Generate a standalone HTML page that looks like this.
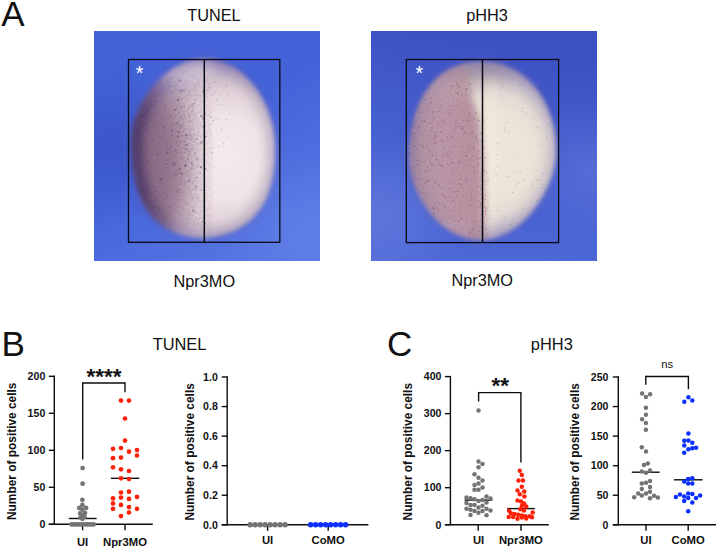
<!DOCTYPE html>
<html><head><meta charset="utf-8"><title>Figure</title>
<style>html,body{margin:0;padding:0;background:#fff;width:717px;height:550px;overflow:hidden}svg{display:block}</style>
</head><body>
<svg width="717" height="550" viewBox="0 0 717 550" font-family="'Liberation Sans', Arial, sans-serif">
<defs>
<filter id="bl3" x="-30%" y="-30%" width="160%" height="160%"><feGaussianBlur stdDeviation="3"/></filter>
<filter id="bl4" x="-30%" y="-30%" width="160%" height="160%"><feGaussianBlur stdDeviation="4"/></filter>
<filter id="bl6" x="-30%" y="-30%" width="160%" height="160%"><feGaussianBlur stdDeviation="6"/></filter>
<filter id="bl12" x="-30%" y="-30%" width="160%" height="160%"><feGaussianBlur stdDeviation="12"/></filter>
<filter id="bl2" x="-30%" y="-30%" width="160%" height="160%"><feGaussianBlur stdDeviation="2"/></filter>
<linearGradient id="bg1" x1="0" y1="0" x2="0.6" y2="1"><stop offset="0" stop-color="#4462d6"/><stop offset="0.5" stop-color="#4362d8"/><stop offset="1" stop-color="#5574e2"/></linearGradient>
<radialGradient id="bgr1" cx="0.08" cy="0.5" r="0.35"><stop offset="0" stop-color="#3048b8" stop-opacity="0.45"/><stop offset="1" stop-color="#3048b8" stop-opacity="0"/></radialGradient>
<radialGradient id="bgs1" cx="0.95" cy="0.9" r="0.4"><stop offset="0" stop-color="#6a88ea" stop-opacity="0.5"/><stop offset="1" stop-color="#6a88ea" stop-opacity="0"/></radialGradient>
<linearGradient id="bg2" x1="0.5" y1="0" x2="0.3" y2="1"><stop offset="0" stop-color="#3b50c2"/><stop offset="0.5" stop-color="#4660d0"/><stop offset="1" stop-color="#4e68d6"/></linearGradient>
<radialGradient id="bgr2" cx="0.04" cy="0.8" r="0.35"><stop offset="0" stop-color="#6c84e2" stop-opacity="0.55"/><stop offset="1" stop-color="#6c84e2" stop-opacity="0"/></radialGradient>
<radialGradient id="bgs2" cx="0.98" cy="0.6" r="0.3"><stop offset="0" stop-color="#6a80e0" stop-opacity="0.4"/><stop offset="1" stop-color="#6a80e0" stop-opacity="0"/></radialGradient>
<radialGradient id="eb1" cx="0.64" cy="0.55" r="0.62" fx="0.64" fy="0.55" gradientTransform="translate(0.64 0.55) scale(1 0.85) translate(-0.64 -0.55)"><stop offset="0" stop-color="#f5ebec"/><stop offset="0.45" stop-color="#efe4e6"/><stop offset="0.7" stop-color="#e0d2d8"/><stop offset="0.86" stop-color="#c6b6c8"/><stop offset="1" stop-color="#9a8cc0"/></radialGradient>
<linearGradient id="ev1" x1="0" y1="0" x2="0" y2="1"><stop offset="0" stop-color="#fff" stop-opacity="0.0"/><stop offset="1" stop-color="#fff" stop-opacity="0"/></linearGradient>
<radialGradient id="eb2" cx="0.55" cy="0.52" r="0.6" gradientTransform="translate(0.55 0.52) scale(1 0.85) translate(-0.55 -0.52)"><stop offset="0" stop-color="#eee6da"/><stop offset="0.5" stop-color="#ebe3d7"/><stop offset="0.68" stop-color="#e2dad4"/><stop offset="0.82" stop-color="#cac2cc"/><stop offset="0.93" stop-color="#aaa2c6"/><stop offset="1" stop-color="#8a86c4"/></radialGradient>
<linearGradient id="pk2" x1="405" y1="0" x2="490" y2="0" gradientUnits="userSpaceOnUse"><stop offset="0" stop-color="#7a6aa2"/><stop offset="0.07" stop-color="#9a82a0"/><stop offset="0.2" stop-color="#b496a6"/><stop offset="0.5" stop-color="#ba98a7"/><stop offset="0.85" stop-color="#b6929f"/><stop offset="0.94" stop-color="#c6aab0"/><stop offset="1" stop-color="#dccac4"/></linearGradient>
<linearGradient id="ev2" x1="0" y1="0" x2="0" y2="1"><stop offset="0" stop-color="#fff" stop-opacity="0.0"/><stop offset="1" stop-color="#fff" stop-opacity="0"/></linearGradient>
<filter id="bl10" x="-50%" y="-50%" width="200%" height="200%"><feGaussianBlur stdDeviation="10"/></filter>
<mask id="gm2" maskUnits="userSpaceOnUse" x="380" y="30" width="240" height="240"><path d="M395,50 L466,50 L468,80 L471,100 L478,118 L484,160 L487,205 L490,250 L395,250 Z" fill="#fff" filter="url(#bl2)"/></mask>
<mask id="gm1" maskUnits="userSpaceOnUse" x="100" y="30" width="220" height="240"><rect x="140" y="75" width="65" height="165" fill="#fff" filter="url(#bl12)"/></mask>
<filter id="grain1" x="0" y="0" width="100%" height="100%"><feTurbulence type="fractalNoise" baseFrequency="0.35" numOctaves="2" seed="7"/><feColorMatrix type="matrix" values="0 0 0 0 0.28  0 0 0 0 0.18  0 0 0 0 0.32  1.8 0 0 0 -0.6"/><feGaussianBlur stdDeviation="0.5"/></filter>
<linearGradient id="rmg1" x1="125" y1="0" x2="175" y2="0" gradientUnits="userSpaceOnUse"><stop offset="0" stop-color="#fff"/><stop offset="0.35" stop-color="#fff" stop-opacity="0.9"/><stop offset="1" stop-color="#fff" stop-opacity="0"/></linearGradient>
<mask id="rm1" maskUnits="userSpaceOnUse" x="100" y="30" width="220" height="240"><rect x="100" y="30" width="220" height="240" fill="url(#rmg1)"/><rect x="100" y="30" width="120" height="70" fill="#000" opacity="0.6" filter="url(#bl12)"/></mask>
<filter id="bl04"><feGaussianBlur stdDeviation="0.5"/></filter>
<filter id="bl8" x="-50%" y="-50%" width="200%" height="200%"><feGaussianBlur stdDeviation="8"/></filter>
<filter id="grain" x="0" y="0" width="100%" height="100%"><feTurbulence type="fractalNoise" baseFrequency="0.4" numOctaves="2" seed="3"/><feColorMatrix type="matrix" values="0 0 0 0 0.45  0 0 0 0 0.24  0 0 0 0 0.32  3.2 0 0 0 -1.45"/><feGaussianBlur stdDeviation="0.5"/></filter>
</defs>
<rect width="717" height="550" fill="#fff"/>
<clipPath id="pc1"><rect x="94" y="31" width="226" height="230"/></clipPath>
<clipPath id="ec1"><path d="M131.3,148.1 C131.3,146.3 131.3,144.5 131.3,142.6 C131.4,140.8 131.5,138.9 131.6,137.1 C131.8,135.2 132.0,133.4 132.2,131.5 C132.5,129.6 132.8,127.8 133.2,125.9 C133.6,124.1 134.1,122.3 134.6,120.4 C135.2,118.6 135.8,116.8 136.5,115.0 C137.1,113.2 137.9,111.4 138.7,109.6 C139.5,107.8 140.3,106.1 141.3,104.3 C142.2,102.6 143.2,100.9 144.2,99.2 C145.3,97.5 146.4,95.8 147.5,94.1 C148.7,92.4 149.9,90.8 151.2,89.2 C152.5,87.5 153.8,85.9 155.2,84.3 C156.6,82.7 158.0,81.2 159.6,79.6 C161.1,78.1 162.7,76.6 164.4,75.2 C166.1,73.7 167.8,72.3 169.6,71.0 C171.4,69.7 173.3,68.5 175.3,67.3 C177.3,66.2 179.3,65.1 181.4,64.1 C183.5,63.2 185.7,62.3 187.9,61.6 C190.1,60.9 192.3,60.3 194.6,59.9 C196.9,59.5 199.2,59.2 201.6,59.1 C203.9,58.9 206.2,59.0 208.6,59.1 C210.9,59.3 213.2,59.7 215.5,60.1 C217.8,60.6 220.0,61.3 222.2,62.0 C224.4,62.8 226.6,63.7 228.7,64.7 C230.7,65.7 232.8,66.9 234.7,68.1 C236.7,69.3 238.5,70.7 240.3,72.1 C242.1,73.5 243.8,75.0 245.4,76.5 C247.1,78.1 248.6,79.7 250.1,81.3 C251.6,83.0 253.0,84.7 254.3,86.4 C255.6,88.1 256.9,89.9 258.1,91.6 C259.3,93.4 260.4,95.2 261.4,97.0 C262.5,98.8 263.5,100.7 264.4,102.5 C265.3,104.3 266.2,106.2 266.9,108.1 C267.7,109.9 268.5,111.8 269.1,113.7 C269.8,115.6 270.4,117.5 271.0,119.4 C271.5,121.3 272.0,123.2 272.5,125.1 C272.9,127.0 273.3,128.9 273.6,130.9 C273.9,132.8 274.2,134.7 274.4,136.6 C274.6,138.5 274.8,140.5 274.9,142.4 C275.0,144.3 275.1,146.2 275.1,148.1 C275.2,150.1 275.2,152.0 275.1,153.9 C275.1,155.9 275.0,157.8 274.9,159.8 C274.8,161.7 274.6,163.7 274.4,165.6 C274.2,167.6 274.0,169.6 273.7,171.6 C273.4,173.6 273.1,175.6 272.7,177.6 C272.3,179.6 271.8,181.7 271.3,183.7 C270.8,185.7 270.2,187.8 269.6,189.8 C268.9,191.8 268.1,193.9 267.3,195.9 C266.4,197.9 265.5,199.9 264.5,201.9 C263.4,203.8 262.3,205.8 261.1,207.7 C259.9,209.5 258.5,211.4 257.1,213.1 C255.6,214.9 254.1,216.6 252.5,218.2 C250.8,219.8 249.1,221.4 247.3,222.8 C245.5,224.2 243.6,225.6 241.6,226.8 C239.7,228.1 237.6,229.2 235.6,230.2 C233.5,231.3 231.3,232.2 229.1,233.0 C226.9,233.8 224.7,234.5 222.4,235.1 C220.2,235.7 217.9,236.2 215.6,236.6 C213.3,237.0 210.9,237.3 208.6,237.5 C206.3,237.7 203.9,237.7 201.6,237.7 C199.2,237.7 196.9,237.5 194.5,237.3 C192.2,237.1 189.9,236.7 187.6,236.3 C185.3,235.8 183.0,235.2 180.8,234.6 C178.6,233.9 176.4,233.1 174.3,232.2 C172.1,231.3 170.0,230.3 168.0,229.2 C166.0,228.0 164.0,226.8 162.2,225.5 C160.3,224.1 158.5,222.7 156.8,221.2 C155.1,219.7 153.5,218.0 152.0,216.4 C150.5,214.7 149.1,212.9 147.8,211.1 C146.5,209.3 145.3,207.4 144.2,205.5 C143.1,203.6 142.2,201.6 141.3,199.6 C140.4,197.7 139.6,195.7 138.9,193.7 C138.1,191.7 137.5,189.7 136.9,187.7 C136.4,185.8 135.9,183.8 135.4,181.8 C135.0,179.9 134.6,177.9 134.3,176.0 C133.9,174.1 133.6,172.2 133.3,170.3 C133.0,168.4 132.8,166.6 132.6,164.7 C132.4,162.8 132.2,161.0 132.0,159.2 C131.8,157.3 131.7,155.5 131.6,153.7 C131.4,151.8 131.4,150.0 131.3,148.1 Z"/></clipPath>
<g clip-path="url(#pc1)">
<rect x="94" y="31" width="226" height="230" fill="url(#bg1)"/>
<rect x="94" y="31" width="226" height="230" fill="url(#bgr1)"/>
<rect x="94" y="31" width="226" height="230" fill="url(#bgs1)"/>
<path d="M131.3,148.1 C131.3,146.3 131.3,144.5 131.3,142.6 C131.4,140.8 131.5,138.9 131.6,137.1 C131.8,135.2 132.0,133.4 132.2,131.5 C132.5,129.6 132.8,127.8 133.2,125.9 C133.6,124.1 134.1,122.3 134.6,120.4 C135.2,118.6 135.8,116.8 136.5,115.0 C137.1,113.2 137.9,111.4 138.7,109.6 C139.5,107.8 140.3,106.1 141.3,104.3 C142.2,102.6 143.2,100.9 144.2,99.2 C145.3,97.5 146.4,95.8 147.5,94.1 C148.7,92.4 149.9,90.8 151.2,89.2 C152.5,87.5 153.8,85.9 155.2,84.3 C156.6,82.7 158.0,81.2 159.6,79.6 C161.1,78.1 162.7,76.6 164.4,75.2 C166.1,73.7 167.8,72.3 169.6,71.0 C171.4,69.7 173.3,68.5 175.3,67.3 C177.3,66.2 179.3,65.1 181.4,64.1 C183.5,63.2 185.7,62.3 187.9,61.6 C190.1,60.9 192.3,60.3 194.6,59.9 C196.9,59.5 199.2,59.2 201.6,59.1 C203.9,58.9 206.2,59.0 208.6,59.1 C210.9,59.3 213.2,59.7 215.5,60.1 C217.8,60.6 220.0,61.3 222.2,62.0 C224.4,62.8 226.6,63.7 228.7,64.7 C230.7,65.7 232.8,66.9 234.7,68.1 C236.7,69.3 238.5,70.7 240.3,72.1 C242.1,73.5 243.8,75.0 245.4,76.5 C247.1,78.1 248.6,79.7 250.1,81.3 C251.6,83.0 253.0,84.7 254.3,86.4 C255.6,88.1 256.9,89.9 258.1,91.6 C259.3,93.4 260.4,95.2 261.4,97.0 C262.5,98.8 263.5,100.7 264.4,102.5 C265.3,104.3 266.2,106.2 266.9,108.1 C267.7,109.9 268.5,111.8 269.1,113.7 C269.8,115.6 270.4,117.5 271.0,119.4 C271.5,121.3 272.0,123.2 272.5,125.1 C272.9,127.0 273.3,128.9 273.6,130.9 C273.9,132.8 274.2,134.7 274.4,136.6 C274.6,138.5 274.8,140.5 274.9,142.4 C275.0,144.3 275.1,146.2 275.1,148.1 C275.2,150.1 275.2,152.0 275.1,153.9 C275.1,155.9 275.0,157.8 274.9,159.8 C274.8,161.7 274.6,163.7 274.4,165.6 C274.2,167.6 274.0,169.6 273.7,171.6 C273.4,173.6 273.1,175.6 272.7,177.6 C272.3,179.6 271.8,181.7 271.3,183.7 C270.8,185.7 270.2,187.8 269.6,189.8 C268.9,191.8 268.1,193.9 267.3,195.9 C266.4,197.9 265.5,199.9 264.5,201.9 C263.4,203.8 262.3,205.8 261.1,207.7 C259.9,209.5 258.5,211.4 257.1,213.1 C255.6,214.9 254.1,216.6 252.5,218.2 C250.8,219.8 249.1,221.4 247.3,222.8 C245.5,224.2 243.6,225.6 241.6,226.8 C239.7,228.1 237.6,229.2 235.6,230.2 C233.5,231.3 231.3,232.2 229.1,233.0 C226.9,233.8 224.7,234.5 222.4,235.1 C220.2,235.7 217.9,236.2 215.6,236.6 C213.3,237.0 210.9,237.3 208.6,237.5 C206.3,237.7 203.9,237.7 201.6,237.7 C199.2,237.7 196.9,237.5 194.5,237.3 C192.2,237.1 189.9,236.7 187.6,236.3 C185.3,235.8 183.0,235.2 180.8,234.6 C178.6,233.9 176.4,233.1 174.3,232.2 C172.1,231.3 170.0,230.3 168.0,229.2 C166.0,228.0 164.0,226.8 162.2,225.5 C160.3,224.1 158.5,222.7 156.8,221.2 C155.1,219.7 153.5,218.0 152.0,216.4 C150.5,214.7 149.1,212.9 147.8,211.1 C146.5,209.3 145.3,207.4 144.2,205.5 C143.1,203.6 142.2,201.6 141.3,199.6 C140.4,197.7 139.6,195.7 138.9,193.7 C138.1,191.7 137.5,189.7 136.9,187.7 C136.4,185.8 135.9,183.8 135.4,181.8 C135.0,179.9 134.6,177.9 134.3,176.0 C133.9,174.1 133.6,172.2 133.3,170.3 C133.0,168.4 132.8,166.6 132.6,164.7 C132.4,162.8 132.2,161.0 132.0,159.2 C131.8,157.3 131.7,155.5 131.6,153.7 C131.4,151.8 131.4,150.0 131.3,148.1 Z" fill="#6656a8" filter="url(#bl6)" opacity="0.45"/>
<g filter="url(#bl2)">
<path d="M131.3,148.1 C131.3,146.3 131.3,144.5 131.3,142.6 C131.4,140.8 131.5,138.9 131.6,137.1 C131.8,135.2 132.0,133.4 132.2,131.5 C132.5,129.6 132.8,127.8 133.2,125.9 C133.6,124.1 134.1,122.3 134.6,120.4 C135.2,118.6 135.8,116.8 136.5,115.0 C137.1,113.2 137.9,111.4 138.7,109.6 C139.5,107.8 140.3,106.1 141.3,104.3 C142.2,102.6 143.2,100.9 144.2,99.2 C145.3,97.5 146.4,95.8 147.5,94.1 C148.7,92.4 149.9,90.8 151.2,89.2 C152.5,87.5 153.8,85.9 155.2,84.3 C156.6,82.7 158.0,81.2 159.6,79.6 C161.1,78.1 162.7,76.6 164.4,75.2 C166.1,73.7 167.8,72.3 169.6,71.0 C171.4,69.7 173.3,68.5 175.3,67.3 C177.3,66.2 179.3,65.1 181.4,64.1 C183.5,63.2 185.7,62.3 187.9,61.6 C190.1,60.9 192.3,60.3 194.6,59.9 C196.9,59.5 199.2,59.2 201.6,59.1 C203.9,58.9 206.2,59.0 208.6,59.1 C210.9,59.3 213.2,59.7 215.5,60.1 C217.8,60.6 220.0,61.3 222.2,62.0 C224.4,62.8 226.6,63.7 228.7,64.7 C230.7,65.7 232.8,66.9 234.7,68.1 C236.7,69.3 238.5,70.7 240.3,72.1 C242.1,73.5 243.8,75.0 245.4,76.5 C247.1,78.1 248.6,79.7 250.1,81.3 C251.6,83.0 253.0,84.7 254.3,86.4 C255.6,88.1 256.9,89.9 258.1,91.6 C259.3,93.4 260.4,95.2 261.4,97.0 C262.5,98.8 263.5,100.7 264.4,102.5 C265.3,104.3 266.2,106.2 266.9,108.1 C267.7,109.9 268.5,111.8 269.1,113.7 C269.8,115.6 270.4,117.5 271.0,119.4 C271.5,121.3 272.0,123.2 272.5,125.1 C272.9,127.0 273.3,128.9 273.6,130.9 C273.9,132.8 274.2,134.7 274.4,136.6 C274.6,138.5 274.8,140.5 274.9,142.4 C275.0,144.3 275.1,146.2 275.1,148.1 C275.2,150.1 275.2,152.0 275.1,153.9 C275.1,155.9 275.0,157.8 274.9,159.8 C274.8,161.7 274.6,163.7 274.4,165.6 C274.2,167.6 274.0,169.6 273.7,171.6 C273.4,173.6 273.1,175.6 272.7,177.6 C272.3,179.6 271.8,181.7 271.3,183.7 C270.8,185.7 270.2,187.8 269.6,189.8 C268.9,191.8 268.1,193.9 267.3,195.9 C266.4,197.9 265.5,199.9 264.5,201.9 C263.4,203.8 262.3,205.8 261.1,207.7 C259.9,209.5 258.5,211.4 257.1,213.1 C255.6,214.9 254.1,216.6 252.5,218.2 C250.8,219.8 249.1,221.4 247.3,222.8 C245.5,224.2 243.6,225.6 241.6,226.8 C239.7,228.1 237.6,229.2 235.6,230.2 C233.5,231.3 231.3,232.2 229.1,233.0 C226.9,233.8 224.7,234.5 222.4,235.1 C220.2,235.7 217.9,236.2 215.6,236.6 C213.3,237.0 210.9,237.3 208.6,237.5 C206.3,237.7 203.9,237.7 201.6,237.7 C199.2,237.7 196.9,237.5 194.5,237.3 C192.2,237.1 189.9,236.7 187.6,236.3 C185.3,235.8 183.0,235.2 180.8,234.6 C178.6,233.9 176.4,233.1 174.3,232.2 C172.1,231.3 170.0,230.3 168.0,229.2 C166.0,228.0 164.0,226.8 162.2,225.5 C160.3,224.1 158.5,222.7 156.8,221.2 C155.1,219.7 153.5,218.0 152.0,216.4 C150.5,214.7 149.1,212.9 147.8,211.1 C146.5,209.3 145.3,207.4 144.2,205.5 C143.1,203.6 142.2,201.6 141.3,199.6 C140.4,197.7 139.6,195.7 138.9,193.7 C138.1,191.7 137.5,189.7 136.9,187.7 C136.4,185.8 135.9,183.8 135.4,181.8 C135.0,179.9 134.6,177.9 134.3,176.0 C133.9,174.1 133.6,172.2 133.3,170.3 C133.0,168.4 132.8,166.6 132.6,164.7 C132.4,162.8 132.2,161.0 132.0,159.2 C131.8,157.3 131.7,155.5 131.6,153.7 C131.4,151.8 131.4,150.0 131.3,148.1 Z" fill="url(#eb1)"/>
<g clip-path="url(#ec1)">
<ellipse cx="150" cy="165" rx="30" ry="72" fill="#6a4a6e" opacity="0.75" filter="url(#bl10)"/>
<ellipse cx="170" cy="158" rx="26" ry="72" fill="#957284" opacity="0.55" filter="url(#bl12)"/>
<g mask="url(#rm1)"><path d="M131.3,148.1 C131.3,146.3 131.3,144.5 131.3,142.6 C131.4,140.8 131.5,138.9 131.6,137.1 C131.8,135.2 132.0,133.4 132.2,131.5 C132.5,129.6 132.8,127.8 133.2,125.9 C133.6,124.1 134.1,122.3 134.6,120.4 C135.2,118.6 135.8,116.8 136.5,115.0 C137.1,113.2 137.9,111.4 138.7,109.6 C139.5,107.8 140.3,106.1 141.3,104.3 C142.2,102.6 143.2,100.9 144.2,99.2 C145.3,97.5 146.4,95.8 147.5,94.1 C148.7,92.4 149.9,90.8 151.2,89.2 C152.5,87.5 153.8,85.9 155.2,84.3 C156.6,82.7 158.0,81.2 159.6,79.6 C161.1,78.1 162.7,76.6 164.4,75.2 C166.1,73.7 167.8,72.3 169.6,71.0 C171.4,69.7 173.3,68.5 175.3,67.3 C177.3,66.2 179.3,65.1 181.4,64.1 C183.5,63.2 185.7,62.3 187.9,61.6 C190.1,60.9 192.3,60.3 194.6,59.9 C196.9,59.5 199.2,59.2 201.6,59.1 C203.9,58.9 206.2,59.0 208.6,59.1 C210.9,59.3 213.2,59.7 215.5,60.1 C217.8,60.6 220.0,61.3 222.2,62.0 C224.4,62.8 226.6,63.7 228.7,64.7 C230.7,65.7 232.8,66.9 234.7,68.1 C236.7,69.3 238.5,70.7 240.3,72.1 C242.1,73.5 243.8,75.0 245.4,76.5 C247.1,78.1 248.6,79.7 250.1,81.3 C251.6,83.0 253.0,84.7 254.3,86.4 C255.6,88.1 256.9,89.9 258.1,91.6 C259.3,93.4 260.4,95.2 261.4,97.0 C262.5,98.8 263.5,100.7 264.4,102.5 C265.3,104.3 266.2,106.2 266.9,108.1 C267.7,109.9 268.5,111.8 269.1,113.7 C269.8,115.6 270.4,117.5 271.0,119.4 C271.5,121.3 272.0,123.2 272.5,125.1 C272.9,127.0 273.3,128.9 273.6,130.9 C273.9,132.8 274.2,134.7 274.4,136.6 C274.6,138.5 274.8,140.5 274.9,142.4 C275.0,144.3 275.1,146.2 275.1,148.1 C275.2,150.1 275.2,152.0 275.1,153.9 C275.1,155.9 275.0,157.8 274.9,159.8 C274.8,161.7 274.6,163.7 274.4,165.6 C274.2,167.6 274.0,169.6 273.7,171.6 C273.4,173.6 273.1,175.6 272.7,177.6 C272.3,179.6 271.8,181.7 271.3,183.7 C270.8,185.7 270.2,187.8 269.6,189.8 C268.9,191.8 268.1,193.9 267.3,195.9 C266.4,197.9 265.5,199.9 264.5,201.9 C263.4,203.8 262.3,205.8 261.1,207.7 C259.9,209.5 258.5,211.4 257.1,213.1 C255.6,214.9 254.1,216.6 252.5,218.2 C250.8,219.8 249.1,221.4 247.3,222.8 C245.5,224.2 243.6,225.6 241.6,226.8 C239.7,228.1 237.6,229.2 235.6,230.2 C233.5,231.3 231.3,232.2 229.1,233.0 C226.9,233.8 224.7,234.5 222.4,235.1 C220.2,235.7 217.9,236.2 215.6,236.6 C213.3,237.0 210.9,237.3 208.6,237.5 C206.3,237.7 203.9,237.7 201.6,237.7 C199.2,237.7 196.9,237.5 194.5,237.3 C192.2,237.1 189.9,236.7 187.6,236.3 C185.3,235.8 183.0,235.2 180.8,234.6 C178.6,233.9 176.4,233.1 174.3,232.2 C172.1,231.3 170.0,230.3 168.0,229.2 C166.0,228.0 164.0,226.8 162.2,225.5 C160.3,224.1 158.5,222.7 156.8,221.2 C155.1,219.7 153.5,218.0 152.0,216.4 C150.5,214.7 149.1,212.9 147.8,211.1 C146.5,209.3 145.3,207.4 144.2,205.5 C143.1,203.6 142.2,201.6 141.3,199.6 C140.4,197.7 139.6,195.7 138.9,193.7 C138.1,191.7 137.5,189.7 136.9,187.7 C136.4,185.8 135.9,183.8 135.4,181.8 C135.0,179.9 134.6,177.9 134.3,176.0 C133.9,174.1 133.6,172.2 133.3,170.3 C133.0,168.4 132.8,166.6 132.6,164.7 C132.4,162.8 132.2,161.0 132.0,159.2 C131.8,157.3 131.7,155.5 131.6,153.7 C131.4,151.8 131.4,150.0 131.3,148.1 Z" fill="none" stroke="#34244e" stroke-width="22" opacity="0.9" filter="url(#bl4)"/></g>
<ellipse cx="185" cy="70" rx="32" ry="13" fill="#e6dade" opacity="0.7" filter="url(#bl6)"/>
<ellipse cx="196" cy="240" rx="26" ry="8" fill="#f2e8ec" opacity="0.5" filter="url(#bl6)"/>
<path d="M131.3,148.1 C131.3,146.3 131.3,144.5 131.3,142.6 C131.4,140.8 131.5,138.9 131.6,137.1 C131.8,135.2 132.0,133.4 132.2,131.5 C132.5,129.6 132.8,127.8 133.2,125.9 C133.6,124.1 134.1,122.3 134.6,120.4 C135.2,118.6 135.8,116.8 136.5,115.0 C137.1,113.2 137.9,111.4 138.7,109.6 C139.5,107.8 140.3,106.1 141.3,104.3 C142.2,102.6 143.2,100.9 144.2,99.2 C145.3,97.5 146.4,95.8 147.5,94.1 C148.7,92.4 149.9,90.8 151.2,89.2 C152.5,87.5 153.8,85.9 155.2,84.3 C156.6,82.7 158.0,81.2 159.6,79.6 C161.1,78.1 162.7,76.6 164.4,75.2 C166.1,73.7 167.8,72.3 169.6,71.0 C171.4,69.7 173.3,68.5 175.3,67.3 C177.3,66.2 179.3,65.1 181.4,64.1 C183.5,63.2 185.7,62.3 187.9,61.6 C190.1,60.9 192.3,60.3 194.6,59.9 C196.9,59.5 199.2,59.2 201.6,59.1 C203.9,58.9 206.2,59.0 208.6,59.1 C210.9,59.3 213.2,59.7 215.5,60.1 C217.8,60.6 220.0,61.3 222.2,62.0 C224.4,62.8 226.6,63.7 228.7,64.7 C230.7,65.7 232.8,66.9 234.7,68.1 C236.7,69.3 238.5,70.7 240.3,72.1 C242.1,73.5 243.8,75.0 245.4,76.5 C247.1,78.1 248.6,79.7 250.1,81.3 C251.6,83.0 253.0,84.7 254.3,86.4 C255.6,88.1 256.9,89.9 258.1,91.6 C259.3,93.4 260.4,95.2 261.4,97.0 C262.5,98.8 263.5,100.7 264.4,102.5 C265.3,104.3 266.2,106.2 266.9,108.1 C267.7,109.9 268.5,111.8 269.1,113.7 C269.8,115.6 270.4,117.5 271.0,119.4 C271.5,121.3 272.0,123.2 272.5,125.1 C272.9,127.0 273.3,128.9 273.6,130.9 C273.9,132.8 274.2,134.7 274.4,136.6 C274.6,138.5 274.8,140.5 274.9,142.4 C275.0,144.3 275.1,146.2 275.1,148.1 C275.2,150.1 275.2,152.0 275.1,153.9 C275.1,155.9 275.0,157.8 274.9,159.8 C274.8,161.7 274.6,163.7 274.4,165.6 C274.2,167.6 274.0,169.6 273.7,171.6 C273.4,173.6 273.1,175.6 272.7,177.6 C272.3,179.6 271.8,181.7 271.3,183.7 C270.8,185.7 270.2,187.8 269.6,189.8 C268.9,191.8 268.1,193.9 267.3,195.9 C266.4,197.9 265.5,199.9 264.5,201.9 C263.4,203.8 262.3,205.8 261.1,207.7 C259.9,209.5 258.5,211.4 257.1,213.1 C255.6,214.9 254.1,216.6 252.5,218.2 C250.8,219.8 249.1,221.4 247.3,222.8 C245.5,224.2 243.6,225.6 241.6,226.8 C239.7,228.1 237.6,229.2 235.6,230.2 C233.5,231.3 231.3,232.2 229.1,233.0 C226.9,233.8 224.7,234.5 222.4,235.1 C220.2,235.7 217.9,236.2 215.6,236.6 C213.3,237.0 210.9,237.3 208.6,237.5 C206.3,237.7 203.9,237.7 201.6,237.7 C199.2,237.7 196.9,237.5 194.5,237.3 C192.2,237.1 189.9,236.7 187.6,236.3 C185.3,235.8 183.0,235.2 180.8,234.6 C178.6,233.9 176.4,233.1 174.3,232.2 C172.1,231.3 170.0,230.3 168.0,229.2 C166.0,228.0 164.0,226.8 162.2,225.5 C160.3,224.1 158.5,222.7 156.8,221.2 C155.1,219.7 153.5,218.0 152.0,216.4 C150.5,214.7 149.1,212.9 147.8,211.1 C146.5,209.3 145.3,207.4 144.2,205.5 C143.1,203.6 142.2,201.6 141.3,199.6 C140.4,197.7 139.6,195.7 138.9,193.7 C138.1,191.7 137.5,189.7 136.9,187.7 C136.4,185.8 135.9,183.8 135.4,181.8 C135.0,179.9 134.6,177.9 134.3,176.0 C133.9,174.1 133.6,172.2 133.3,170.3 C133.0,168.4 132.8,166.6 132.6,164.7 C132.4,162.8 132.2,161.0 132.0,159.2 C131.8,157.3 131.7,155.5 131.6,153.7 C131.4,151.8 131.4,150.0 131.3,148.1 Z" fill="none" stroke="#76669a" stroke-width="12" opacity="0.45" filter="url(#bl6)"/>
</g>
</g>
<g clip-path="url(#ec1)" filter="url(#bl04)">
<rect x="128" y="60" width="85" height="185" filter="url(#grain1)" opacity="0.45" mask="url(#gm1)"/>
<circle cx="145.9" cy="167.4" r="0.5" fill="#4a3462" opacity="0.21"/>
<circle cx="188.4" cy="138.4" r="0.4" fill="#4a3462" opacity="0.51"/>
<circle cx="203.0" cy="141.2" r="0.5" fill="#4a3462" opacity="0.27"/>
<circle cx="185.7" cy="138.9" r="0.6" fill="#4a3462" opacity="0.26"/>
<circle cx="204.9" cy="207.7" r="0.9" fill="#4a3462" opacity="0.26"/>
<circle cx="165.9" cy="118.1" r="0.5" fill="#4a3462" opacity="0.53"/>
<circle cx="164.2" cy="105.1" r="0.5" fill="#4a3462" opacity="0.57"/>
<circle cx="174.3" cy="162.1" r="0.4" fill="#4a3462" opacity="0.24"/>
<circle cx="166.2" cy="160.2" r="0.8" fill="#4a3462" opacity="0.39"/>
<circle cx="178.6" cy="189.4" r="0.6" fill="#4a3462" opacity="0.43"/>
<circle cx="195.5" cy="181.2" r="0.5" fill="#4a3462" opacity="0.37"/>
<circle cx="193.0" cy="110.1" r="0.7" fill="#4a3462" opacity="0.58"/>
<circle cx="185.3" cy="165.4" r="1.1" fill="#4a3462" opacity="0.55"/>
<circle cx="148.9" cy="115.6" r="0.6" fill="#4a3462" opacity="0.33"/>
<circle cx="146.9" cy="121.7" r="0.4" fill="#4a3462" opacity="0.38"/>
<circle cx="180.4" cy="133.3" r="0.4" fill="#4a3462" opacity="0.31"/>
<circle cx="203.3" cy="91.9" r="1.1" fill="#4a3462" opacity="0.39"/>
<circle cx="191.6" cy="191.9" r="0.5" fill="#4a3462" opacity="0.51"/>
<circle cx="178.6" cy="145.8" r="0.6" fill="#4a3462" opacity="0.40"/>
<circle cx="192.8" cy="141.5" r="0.6" fill="#4a3462" opacity="0.34"/>
<circle cx="184.8" cy="90.2" r="0.7" fill="#4a3462" opacity="0.25"/>
<circle cx="154.6" cy="108.3" r="0.4" fill="#4a3462" opacity="0.57"/>
<circle cx="185.8" cy="134.3" r="0.7" fill="#4a3462" opacity="0.44"/>
<circle cx="177.9" cy="100.1" r="1.1" fill="#4a3462" opacity="0.57"/>
<circle cx="202.8" cy="90.2" r="0.5" fill="#4a3462" opacity="0.38"/>
<circle cx="166.3" cy="197.3" r="0.4" fill="#4a3462" opacity="0.36"/>
<circle cx="172.7" cy="122.8" r="0.4" fill="#4a3462" opacity="0.21"/>
<circle cx="176.7" cy="122.4" r="0.6" fill="#4a3462" opacity="0.21"/>
<circle cx="183.7" cy="131.2" r="0.6" fill="#4a3462" opacity="0.49"/>
<circle cx="172.8" cy="161.3" r="0.5" fill="#4a3462" opacity="0.19"/>
<circle cx="176.8" cy="152.1" r="0.5" fill="#4a3462" opacity="0.39"/>
<circle cx="180.2" cy="117.3" r="0.6" fill="#4a3462" opacity="0.53"/>
<circle cx="189.8" cy="127.7" r="0.7" fill="#4a3462" opacity="0.21"/>
<circle cx="155.2" cy="126.1" r="0.6" fill="#4a3462" opacity="0.55"/>
<circle cx="170.8" cy="142.4" r="0.6" fill="#4a3462" opacity="0.41"/>
<circle cx="202.2" cy="141.3" r="0.5" fill="#4a3462" opacity="0.28"/>
<circle cx="174.1" cy="175.3" r="0.7" fill="#4a3462" opacity="0.21"/>
<circle cx="185.5" cy="147.1" r="0.6" fill="#4a3462" opacity="0.19"/>
<circle cx="187.2" cy="134.8" r="0.6" fill="#4a3462" opacity="0.22"/>
<circle cx="176.2" cy="105.6" r="0.5" fill="#4a3462" opacity="0.34"/>
<circle cx="176.8" cy="191.6" r="0.9" fill="#4a3462" opacity="0.28"/>
<circle cx="167.7" cy="81.7" r="0.7" fill="#4a3462" opacity="0.23"/>
<circle cx="174.3" cy="164.5" r="0.9" fill="#4a3462" opacity="0.49"/>
<circle cx="205.3" cy="223.1" r="0.5" fill="#4a3462" opacity="0.55"/>
<circle cx="163.6" cy="192.9" r="0.7" fill="#4a3462" opacity="0.51"/>
<circle cx="203.9" cy="165.4" r="0.6" fill="#4a3462" opacity="0.47"/>
<circle cx="180.1" cy="136.4" r="0.4" fill="#4a3462" opacity="0.19"/>
<circle cx="188.5" cy="155.7" r="0.5" fill="#4a3462" opacity="0.56"/>
<circle cx="166.4" cy="167.8" r="0.7" fill="#4a3462" opacity="0.32"/>
<circle cx="181.5" cy="107.4" r="0.6" fill="#4a3462" opacity="0.54"/>
<circle cx="159.7" cy="93.3" r="0.4" fill="#4a3462" opacity="0.19"/>
<circle cx="184.8" cy="116.6" r="0.5" fill="#4a3462" opacity="0.31"/>
<circle cx="158.2" cy="185.0" r="0.4" fill="#4a3462" opacity="0.23"/>
<circle cx="189.2" cy="210.8" r="0.6" fill="#4a3462" opacity="0.43"/>
<circle cx="179.0" cy="90.2" r="0.5" fill="#4a3462" opacity="0.53"/>
<circle cx="193.1" cy="99.7" r="0.4" fill="#4a3462" opacity="0.52"/>
<circle cx="161.4" cy="122.5" r="0.4" fill="#4a3462" opacity="0.30"/>
<circle cx="160.0" cy="210.2" r="0.7" fill="#4a3462" opacity="0.49"/>
<circle cx="188.2" cy="133.8" r="0.9" fill="#4a3462" opacity="0.24"/>
<circle cx="172.0" cy="123.9" r="0.6" fill="#4a3462" opacity="0.41"/>
<circle cx="205.1" cy="169.0" r="0.9" fill="#4a3462" opacity="0.43"/>
<circle cx="201.7" cy="141.0" r="0.6" fill="#4a3462" opacity="0.36"/>
<circle cx="189.6" cy="118.0" r="0.8" fill="#4a3462" opacity="0.39"/>
<circle cx="177.1" cy="109.3" r="0.5" fill="#4a3462" opacity="0.19"/>
<circle cx="169.2" cy="149.1" r="0.7" fill="#4a3462" opacity="0.38"/>
<circle cx="190.5" cy="121.3" r="0.6" fill="#4a3462" opacity="0.55"/>
<circle cx="160.8" cy="83.5" r="0.5" fill="#4a3462" opacity="0.39"/>
<circle cx="204.5" cy="178.0" r="0.6" fill="#4a3462" opacity="0.55"/>
<circle cx="176.0" cy="174.8" r="0.8" fill="#4a3462" opacity="0.56"/>
<circle cx="143.7" cy="148.9" r="0.6" fill="#4a3462" opacity="0.27"/>
<circle cx="190.1" cy="136.4" r="0.5" fill="#4a3462" opacity="0.41"/>
<circle cx="189.0" cy="108.2" r="0.9" fill="#4a3462" opacity="0.24"/>
<circle cx="193.0" cy="209.8" r="0.4" fill="#4a3462" opacity="0.32"/>
<circle cx="192.2" cy="76.0" r="0.5" fill="#4a3462" opacity="0.33"/>
<circle cx="167.6" cy="195.1" r="0.5" fill="#4a3462" opacity="0.44"/>
<circle cx="205.4" cy="136.9" r="1.1" fill="#4a3462" opacity="0.46"/>
<circle cx="187.3" cy="144.9" r="0.8" fill="#4a3462" opacity="0.39"/>
<circle cx="185.7" cy="135.6" r="0.6" fill="#4a3462" opacity="0.55"/>
<circle cx="180.4" cy="128.8" r="0.7" fill="#4a3462" opacity="0.32"/>
<circle cx="185.4" cy="141.5" r="0.6" fill="#4a3462" opacity="0.42"/>
<circle cx="150.6" cy="88.0" r="0.4" fill="#4a3462" opacity="0.33"/>
<circle cx="172.3" cy="131.2" r="1.1" fill="#4a3462" opacity="0.42"/>
<circle cx="142.0" cy="79.7" r="0.4" fill="#4a3462" opacity="0.30"/>
<circle cx="176.5" cy="161.9" r="0.5" fill="#4a3462" opacity="0.37"/>
<circle cx="185.5" cy="166.3" r="0.6" fill="#4a3462" opacity="0.53"/>
<circle cx="167.3" cy="143.7" r="0.5" fill="#4a3462" opacity="0.44"/>
<circle cx="188.1" cy="158.9" r="0.8" fill="#4a3462" opacity="0.52"/>
<circle cx="167.0" cy="125.7" r="0.4" fill="#4a3462" opacity="0.47"/>
<circle cx="184.0" cy="129.5" r="0.5" fill="#4a3462" opacity="0.38"/>
<circle cx="200.2" cy="173.0" r="0.7" fill="#4a3462" opacity="0.55"/>
<circle cx="189.1" cy="151.8" r="0.9" fill="#4a3462" opacity="0.28"/>
<circle cx="183.1" cy="159.0" r="0.5" fill="#4a3462" opacity="0.21"/>
<circle cx="195.1" cy="99.0" r="0.6" fill="#4a3462" opacity="0.38"/>
<circle cx="172.0" cy="135.7" r="0.9" fill="#4a3462" opacity="0.36"/>
<circle cx="201.6" cy="135.9" r="0.5" fill="#4a3462" opacity="0.18"/>
<circle cx="176.9" cy="131.1" r="0.5" fill="#4a3462" opacity="0.28"/>
<circle cx="191.6" cy="162.6" r="0.7" fill="#4a3462" opacity="0.49"/>
<circle cx="192.5" cy="118.7" r="0.6" fill="#4a3462" opacity="0.21"/>
<circle cx="206.9" cy="70.2" r="0.5" fill="#4a3462" opacity="0.29"/>
<circle cx="193.5" cy="149.3" r="0.5" fill="#4a3462" opacity="0.35"/>
<circle cx="167.1" cy="148.2" r="0.8" fill="#4a3462" opacity="0.26"/>
<circle cx="191.6" cy="153.8" r="0.6" fill="#4a3462" opacity="0.23"/>
<circle cx="196.4" cy="139.1" r="0.8" fill="#4a3462" opacity="0.37"/>
<circle cx="184.5" cy="148.8" r="0.9" fill="#4a3462" opacity="0.19"/>
<circle cx="197.8" cy="165.3" r="0.5" fill="#4a3462" opacity="0.46"/>
<circle cx="168.8" cy="139.7" r="0.5" fill="#4a3462" opacity="0.58"/>
<circle cx="207.4" cy="77.2" r="0.5" fill="#4a3462" opacity="0.31"/>
<circle cx="187.1" cy="218.4" r="0.9" fill="#4a3462" opacity="0.29"/>
<circle cx="201.8" cy="190.4" r="0.6" fill="#4a3462" opacity="0.47"/>
<circle cx="211.5" cy="117.4" r="0.6" fill="#4a3462" opacity="0.46"/>
<circle cx="180.5" cy="195.4" r="0.5" fill="#4a3462" opacity="0.32"/>
<circle cx="177.5" cy="149.6" r="0.9" fill="#4a3462" opacity="0.27"/>
<circle cx="189.8" cy="214.9" r="0.4" fill="#4a3462" opacity="0.30"/>
<circle cx="151.2" cy="180.7" r="0.5" fill="#4a3462" opacity="0.27"/>
<circle cx="195.7" cy="86.6" r="0.7" fill="#4a3462" opacity="0.25"/>
<circle cx="184.1" cy="106.1" r="0.6" fill="#4a3462" opacity="0.40"/>
<circle cx="174.1" cy="165.5" r="0.9" fill="#4a3462" opacity="0.29"/>
<circle cx="187.5" cy="206.6" r="0.4" fill="#4a3462" opacity="0.21"/>
<circle cx="203.5" cy="121.9" r="0.4" fill="#4a3462" opacity="0.23"/>
<circle cx="148.2" cy="130.1" r="0.4" fill="#4a3462" opacity="0.44"/>
<circle cx="191.8" cy="168.1" r="0.9" fill="#4a3462" opacity="0.38"/>
<circle cx="191.9" cy="164.4" r="0.6" fill="#4a3462" opacity="0.53"/>
<circle cx="174.3" cy="209.5" r="0.5" fill="#4a3462" opacity="0.34"/>
<circle cx="186.2" cy="145.1" r="0.9" fill="#4a3462" opacity="0.51"/>
<circle cx="141.6" cy="82.2" r="0.7" fill="#4a3462" opacity="0.18"/>
<circle cx="182.6" cy="148.1" r="0.5" fill="#4a3462" opacity="0.44"/>
<circle cx="201.2" cy="115.8" r="1.1" fill="#4a3462" opacity="0.51"/>
<circle cx="178.6" cy="171.7" r="0.6" fill="#4a3462" opacity="0.40"/>
<circle cx="181.7" cy="135.5" r="0.5" fill="#4a3462" opacity="0.35"/>
<circle cx="193.0" cy="188.8" r="0.4" fill="#4a3462" opacity="0.57"/>
<circle cx="209.6" cy="115.4" r="0.7" fill="#4a3462" opacity="0.24"/>
<circle cx="174.4" cy="177.0" r="0.6" fill="#4a3462" opacity="0.20"/>
<circle cx="175.3" cy="150.5" r="0.8" fill="#4a3462" opacity="0.48"/>
<circle cx="182.7" cy="118.8" r="0.8" fill="#4a3462" opacity="0.39"/>
<circle cx="191.5" cy="139.7" r="0.6" fill="#4a3462" opacity="0.35"/>
<circle cx="202.9" cy="119.2" r="0.7" fill="#4a3462" opacity="0.25"/>
<circle cx="186.6" cy="171.9" r="0.4" fill="#4a3462" opacity="0.49"/>
<circle cx="140.8" cy="213.4" r="0.6" fill="#4a3462" opacity="0.25"/>
<circle cx="178.1" cy="136.5" r="1.1" fill="#4a3462" opacity="0.56"/>
<circle cx="182.6" cy="158.1" r="0.7" fill="#4a3462" opacity="0.23"/>
<circle cx="179.4" cy="104.2" r="0.6" fill="#4a3462" opacity="0.31"/>
<circle cx="186.2" cy="149.0" r="0.7" fill="#4a3462" opacity="0.54"/>
<circle cx="155.8" cy="127.9" r="0.7" fill="#4a3462" opacity="0.31"/>
<circle cx="147.3" cy="81.3" r="0.5" fill="#4a3462" opacity="0.24"/>
<circle cx="164.7" cy="73.3" r="0.8" fill="#4a3462" opacity="0.22"/>
<circle cx="192.3" cy="138.1" r="0.8" fill="#4a3462" opacity="0.33"/>
<circle cx="194.3" cy="133.8" r="0.6" fill="#4a3462" opacity="0.56"/>
<circle cx="203.1" cy="127.1" r="1.1" fill="#4a3462" opacity="0.21"/>
<circle cx="169.6" cy="207.3" r="0.9" fill="#4a3462" opacity="0.35"/>
<circle cx="174.9" cy="109.8" r="0.9" fill="#4a3462" opacity="0.48"/>
<circle cx="175.0" cy="162.7" r="0.5" fill="#4a3462" opacity="0.52"/>
<circle cx="168.1" cy="213.8" r="0.8" fill="#4a3462" opacity="0.21"/>
<circle cx="145.1" cy="96.2" r="0.6" fill="#4a3462" opacity="0.49"/>
<circle cx="178.6" cy="123.7" r="0.5" fill="#4a3462" opacity="0.43"/>
<circle cx="167.3" cy="152.8" r="0.6" fill="#4a3462" opacity="0.55"/>
<circle cx="202.7" cy="117.8" r="0.8" fill="#4a3462" opacity="0.34"/>
<circle cx="171.0" cy="146.8" r="0.9" fill="#4a3462" opacity="0.39"/>
<circle cx="200.9" cy="125.3" r="0.7" fill="#4a3462" opacity="0.26"/>
<circle cx="196.3" cy="177.4" r="0.9" fill="#4a3462" opacity="0.34"/>
<circle cx="186.7" cy="77.1" r="0.7" fill="#4a3462" opacity="0.21"/>
<circle cx="171.4" cy="92.5" r="0.8" fill="#4a3462" opacity="0.33"/>
<circle cx="173.8" cy="224.0" r="0.5" fill="#4a3462" opacity="0.18"/>
<circle cx="179.8" cy="206.6" r="0.6" fill="#4a3462" opacity="0.36"/>
<circle cx="173.9" cy="140.8" r="0.7" fill="#4a3462" opacity="0.28"/>
<circle cx="180.5" cy="169.4" r="0.6" fill="#4a3462" opacity="0.46"/>
<circle cx="153.6" cy="139.4" r="0.7" fill="#4a3462" opacity="0.53"/>
<circle cx="163.1" cy="127.4" r="0.5" fill="#4a3462" opacity="0.24"/>
<circle cx="173.6" cy="177.2" r="0.5" fill="#4a3462" opacity="0.49"/>
<circle cx="167.1" cy="152.4" r="1.1" fill="#4a3462" opacity="0.32"/>
<circle cx="181.8" cy="127.3" r="0.5" fill="#4a3462" opacity="0.47"/>
<circle cx="211.8" cy="147.4" r="0.5" fill="#4a3462" opacity="0.53"/>
<circle cx="192.0" cy="105.9" r="0.8" fill="#4a3462" opacity="0.43"/>
<circle cx="148.6" cy="163.4" r="0.6" fill="#4a3462" opacity="0.41"/>
<circle cx="188.7" cy="181.0" r="1.1" fill="#4a3462" opacity="0.42"/>
<circle cx="166.0" cy="143.2" r="0.4" fill="#4a3462" opacity="0.38"/>
<circle cx="186.9" cy="135.7" r="0.6" fill="#4a3462" opacity="0.42"/>
<circle cx="180.9" cy="173.7" r="0.8" fill="#4a3462" opacity="0.33"/>
<circle cx="172.4" cy="137.1" r="0.6" fill="#4a3462" opacity="0.28"/>
<circle cx="186.0" cy="180.7" r="0.8" fill="#4a3462" opacity="0.18"/>
<circle cx="147.8" cy="121.3" r="0.4" fill="#4a3462" opacity="0.41"/>
<circle cx="157.3" cy="154.1" r="0.9" fill="#4a3462" opacity="0.40"/>
<circle cx="195.1" cy="152.9" r="0.9" fill="#4a3462" opacity="0.26"/>
<circle cx="158.9" cy="136.6" r="0.6" fill="#4a3462" opacity="0.40"/>
<circle cx="185.0" cy="152.5" r="0.6" fill="#4a3462" opacity="0.44"/>
<circle cx="197.9" cy="116.7" r="0.4" fill="#4a3462" opacity="0.19"/>
<circle cx="160.4" cy="179.4" r="1.1" fill="#4a3462" opacity="0.53"/>
<circle cx="178.0" cy="127.8" r="0.4" fill="#4a3462" opacity="0.51"/>
<circle cx="180.3" cy="180.2" r="0.4" fill="#4a3462" opacity="0.21"/>
<circle cx="145.7" cy="214.9" r="0.4" fill="#4a3462" opacity="0.42"/>
<circle cx="205.5" cy="126.1" r="0.6" fill="#4a3462" opacity="0.58"/>
<circle cx="181.5" cy="90.6" r="1.1" fill="#4a3462" opacity="0.53"/>
<circle cx="147.3" cy="147.8" r="0.6" fill="#4a3462" opacity="0.50"/>
<circle cx="193.8" cy="103.8" r="0.9" fill="#4a3462" opacity="0.39"/>
<circle cx="145.3" cy="192.7" r="0.8" fill="#4a3462" opacity="0.32"/>
<circle cx="169.0" cy="158.4" r="0.6" fill="#4a3462" opacity="0.26"/>
<circle cx="155.4" cy="191.5" r="0.8" fill="#4a3462" opacity="0.55"/>
<circle cx="154.2" cy="114.8" r="0.8" fill="#4a3462" opacity="0.31"/>
<circle cx="192.3" cy="182.9" r="0.6" fill="#4a3462" opacity="0.48"/>
<circle cx="165.4" cy="108.7" r="0.5" fill="#4a3462" opacity="0.45"/>
<circle cx="177.4" cy="153.3" r="0.7" fill="#4a3462" opacity="0.18"/>
<circle cx="194.5" cy="139.9" r="0.7" fill="#4a3462" opacity="0.25"/>
<circle cx="178.7" cy="141.0" r="0.5" fill="#4a3462" opacity="0.30"/>
<circle cx="182.0" cy="173.0" r="0.6" fill="#4a3462" opacity="0.48"/>
<circle cx="201.0" cy="167.2" r="1.1" fill="#4a3462" opacity="0.47"/>
<circle cx="185.6" cy="182.5" r="0.6" fill="#4a3462" opacity="0.56"/>
<circle cx="205.3" cy="113.8" r="0.9" fill="#4a3462" opacity="0.30"/>
<circle cx="169.2" cy="86.1" r="0.5" fill="#4a3462" opacity="0.47"/>
<circle cx="179.3" cy="168.6" r="1.1" fill="#4a3462" opacity="0.43"/>
<circle cx="189.1" cy="169.9" r="0.5" fill="#4a3462" opacity="0.21"/>
<circle cx="176.7" cy="142.9" r="0.8" fill="#4a3462" opacity="0.20"/>
<circle cx="185.2" cy="115.8" r="0.5" fill="#4a3462" opacity="0.22"/>
<circle cx="201.3" cy="142.7" r="1.1" fill="#4a3462" opacity="0.42"/>
<circle cx="192.3" cy="166.0" r="0.5" fill="#4a3462" opacity="0.51"/>
<circle cx="189.0" cy="177.1" r="0.5" fill="#4a3462" opacity="0.38"/>
<circle cx="184.2" cy="140.9" r="0.6" fill="#4a3462" opacity="0.57"/>
<circle cx="159.9" cy="166.3" r="0.4" fill="#4a3462" opacity="0.29"/>
<circle cx="175.7" cy="162.7" r="0.7" fill="#4a3462" opacity="0.21"/>
<circle cx="178.5" cy="112.5" r="0.7" fill="#4a3462" opacity="0.40"/>
<circle cx="203.1" cy="159.0" r="0.5" fill="#4a3462" opacity="0.35"/>
<circle cx="178.0" cy="199.6" r="0.6" fill="#4a3462" opacity="0.45"/>
<circle cx="147.5" cy="188.9" r="0.7" fill="#4a3462" opacity="0.55"/>
<circle cx="170.2" cy="152.3" r="0.7" fill="#4a3462" opacity="0.32"/>
<circle cx="148.8" cy="178.9" r="0.4" fill="#4a3462" opacity="0.24"/>
<circle cx="188.6" cy="114.9" r="0.9" fill="#4a3462" opacity="0.19"/>
<circle cx="171.1" cy="210.6" r="0.5" fill="#4a3462" opacity="0.50"/>
<circle cx="178.7" cy="131.9" r="0.6" fill="#4a3462" opacity="0.18"/>
<circle cx="175.7" cy="137.9" r="0.5" fill="#4a3462" opacity="0.24"/>
<circle cx="182.4" cy="173.9" r="0.7" fill="#4a3462" opacity="0.53"/>
<circle cx="177.0" cy="123.4" r="0.6" fill="#4a3462" opacity="0.47"/>
<circle cx="181.4" cy="142.1" r="0.6" fill="#4a3462" opacity="0.56"/>
<circle cx="158.5" cy="155.6" r="0.7" fill="#4a3462" opacity="0.41"/>
<circle cx="188.2" cy="149.5" r="0.8" fill="#4a3462" opacity="0.27"/>
<circle cx="149.8" cy="182.3" r="0.6" fill="#4a3462" opacity="0.36"/>
<circle cx="172.2" cy="164.1" r="0.6" fill="#4a3462" opacity="0.51"/>
<circle cx="179.9" cy="80.3" r="0.9" fill="#4a3462" opacity="0.50"/>
<circle cx="197.9" cy="142.3" r="0.4" fill="#4a3462" opacity="0.41"/>
<circle cx="196.1" cy="186.8" r="1.1" fill="#4a3462" opacity="0.34"/>
<circle cx="190.5" cy="135.0" r="0.7" fill="#4a3462" opacity="0.58"/>
<circle cx="168.4" cy="118.5" r="0.6" fill="#4a3462" opacity="0.35"/>
<circle cx="167.2" cy="144.1" r="0.5" fill="#4a3462" opacity="0.21"/>
<circle cx="193.1" cy="89.5" r="0.6" fill="#4a3462" opacity="0.26"/>
<circle cx="196.8" cy="159.0" r="0.9" fill="#4a3462" opacity="0.30"/>
<circle cx="187.4" cy="138.3" r="0.5" fill="#4a3462" opacity="0.29"/>
<circle cx="193.1" cy="210.7" r="0.9" fill="#4a3462" opacity="0.47"/>
<circle cx="156.2" cy="100.7" r="0.9" fill="#4a3462" opacity="0.30"/>
<circle cx="164.0" cy="127.9" r="0.9" fill="#4a3462" opacity="0.46"/>
<circle cx="173.7" cy="125.0" r="0.7" fill="#4a3462" opacity="0.37"/>
<circle cx="140.6" cy="102.3" r="0.6" fill="#4a3462" opacity="0.58"/>
<circle cx="178.7" cy="132.1" r="1.1" fill="#4a3462" opacity="0.41"/>
<circle cx="166.3" cy="163.9" r="0.6" fill="#4a3462" opacity="0.47"/>
<circle cx="176.0" cy="156.6" r="0.7" fill="#4a3462" opacity="0.31"/>
<circle cx="202.5" cy="221.7" r="0.6" fill="#4a3462" opacity="0.50"/>
<circle cx="176.7" cy="170.5" r="0.5" fill="#4a3462" opacity="0.32"/>
<circle cx="173.9" cy="100.7" r="0.5" fill="#4a3462" opacity="0.58"/>
<circle cx="182.0" cy="125.1" r="0.6" fill="#4a3462" opacity="0.54"/>
<circle cx="162.3" cy="178.8" r="0.6" fill="#4a3462" opacity="0.55"/>
<circle cx="190.1" cy="150.7" r="0.5" fill="#4a3462" opacity="0.34"/>
<circle cx="197.3" cy="78.6" r="0.5" fill="#4a3462" opacity="0.24"/>
<circle cx="170.8" cy="115.6" r="0.9" fill="#4a3462" opacity="0.31"/>
<circle cx="180.2" cy="125.7" r="0.7" fill="#4a3462" opacity="0.46"/>
<circle cx="218.7" cy="146.3" r="0.55" fill="#5a4a6a" opacity="0.45"/>
<circle cx="223.7" cy="143.1" r="0.55" fill="#5a4a6a" opacity="0.45"/>
<circle cx="207.8" cy="90.3" r="0.55" fill="#5a4a6a" opacity="0.45"/>
<circle cx="226.6" cy="86.1" r="0.55" fill="#5a4a6a" opacity="0.45"/>
<circle cx="222.2" cy="105.3" r="0.55" fill="#5a4a6a" opacity="0.45"/>
<circle cx="219.4" cy="94.7" r="0.55" fill="#5a4a6a" opacity="0.45"/>
<circle cx="217.0" cy="99.9" r="0.55" fill="#5a4a6a" opacity="0.45"/>
<circle cx="221.6" cy="129.6" r="0.55" fill="#5a4a6a" opacity="0.45"/>
<circle cx="215.0" cy="82.0" r="0.55" fill="#5a4a6a" opacity="0.45"/>
<circle cx="228.3" cy="136.1" r="0.55" fill="#5a4a6a" opacity="0.45"/>
<circle cx="226.6" cy="119.5" r="0.55" fill="#5a4a6a" opacity="0.45"/>
<circle cx="210.5" cy="152.1" r="0.55" fill="#5a4a6a" opacity="0.45"/>
<circle cx="218.7" cy="119.6" r="0.55" fill="#5a4a6a" opacity="0.45"/>
<circle cx="215.8" cy="117.8" r="0.55" fill="#5a4a6a" opacity="0.45"/>
<circle cx="209.6" cy="87.4" r="0.55" fill="#5a4a6a" opacity="0.45"/>
<circle cx="228.6" cy="94.7" r="0.55" fill="#5a4a6a" opacity="0.45"/>
<circle cx="207.6" cy="80.0" r="0.55" fill="#5a4a6a" opacity="0.45"/>
<circle cx="218.8" cy="104.6" r="0.55" fill="#5a4a6a" opacity="0.45"/>
<circle cx="215.8" cy="92.5" r="0.55" fill="#5a4a6a" opacity="0.45"/>
<circle cx="210.9" cy="132.4" r="0.55" fill="#5a4a6a" opacity="0.45"/>
<circle cx="212.0" cy="152.9" r="0.55" fill="#5a4a6a" opacity="0.45"/>
<circle cx="213.3" cy="120.4" r="0.55" fill="#5a4a6a" opacity="0.45"/>
</g>
</g>
<clipPath id="pc2"><rect x="371" y="31" width="226" height="230"/></clipPath>
<clipPath id="ec2"><path d="M409.3,148.7 C409.4,146.8 409.5,145.0 409.7,143.1 C409.9,141.3 410.1,139.5 410.4,137.6 C410.7,135.8 411.0,134.0 411.3,132.2 C411.6,130.3 412.0,128.5 412.4,126.7 C412.8,124.9 413.2,123.0 413.7,121.2 C414.2,119.4 414.7,117.5 415.2,115.7 C415.8,113.8 416.4,111.9 417.0,110.1 C417.7,108.2 418.4,106.3 419.2,104.5 C420.0,102.6 420.8,100.8 421.8,98.9 C422.7,97.1 423.7,95.2 424.8,93.5 C425.9,91.7 427.1,89.9 428.4,88.2 C429.6,86.5 431.0,84.8 432.4,83.2 C433.9,81.5 435.4,80.0 437.0,78.5 C438.7,77.0 440.4,75.6 442.1,74.3 C443.9,73.0 445.8,71.7 447.7,70.6 C449.6,69.5 451.6,68.4 453.7,67.5 C455.7,66.6 457.8,65.7 460.0,65.0 C462.1,64.3 464.3,63.7 466.5,63.2 C468.7,62.7 471.0,62.3 473.2,62.0 C475.5,61.7 477.8,61.6 480.0,61.5 C482.3,61.5 484.6,61.5 486.9,61.7 C489.2,61.9 491.4,62.2 493.7,62.6 C495.9,63.0 498.2,63.5 500.3,64.1 C502.5,64.8 504.7,65.5 506.8,66.3 C508.9,67.2 511.0,68.1 513.0,69.2 C515.0,70.2 516.9,71.4 518.8,72.6 C520.7,73.8 522.5,75.1 524.3,76.5 C526.0,77.9 527.7,79.4 529.3,80.9 C530.8,82.5 532.4,84.1 533.8,85.8 C535.2,87.4 536.6,89.1 537.8,90.9 C539.1,92.6 540.3,94.4 541.4,96.3 C542.5,98.1 543.5,100.0 544.5,101.8 C545.5,103.7 546.4,105.6 547.2,107.5 C548.0,109.4 548.8,111.3 549.5,113.3 C550.2,115.2 550.9,117.1 551.5,119.1 C552.1,121.0 552.6,123.0 553.1,124.9 C553.6,126.9 554.0,128.9 554.4,130.8 C554.7,132.8 555.0,134.8 555.3,136.8 C555.6,138.7 555.8,140.7 555.9,142.7 C556.0,144.7 556.1,146.7 556.1,148.7 C556.1,150.7 556.1,152.7 556.0,154.7 C555.8,156.6 555.6,158.6 555.4,160.6 C555.1,162.6 554.8,164.6 554.4,166.5 C554.0,168.5 553.5,170.4 553.0,172.4 C552.4,174.3 551.8,176.2 551.1,178.1 C550.5,180.0 549.7,181.9 548.9,183.8 C548.1,185.6 547.3,187.5 546.4,189.3 C545.5,191.2 544.5,193.0 543.5,194.8 C542.5,196.6 541.4,198.4 540.3,200.1 C539.2,201.9 538.0,203.7 536.8,205.4 C535.5,207.1 534.3,208.9 532.9,210.6 C531.6,212.3 530.1,214.0 528.7,215.6 C527.2,217.2 525.6,218.9 524.0,220.4 C522.4,222.0 520.7,223.5 518.9,225.0 C517.2,226.4 515.3,227.8 513.4,229.1 C511.4,230.4 509.4,231.7 507.4,232.8 C505.3,233.9 503.1,234.9 500.9,235.8 C498.8,236.6 496.5,237.4 494.2,238.0 C491.9,238.6 489.5,239.0 487.2,239.3 C484.8,239.6 482.4,239.7 480.0,239.7 C477.7,239.7 475.3,239.5 472.9,239.1 C470.6,238.8 468.2,238.3 465.9,237.7 C463.7,237.0 461.4,236.2 459.2,235.3 C457.1,234.4 454.9,233.4 452.9,232.3 C450.8,231.1 448.9,229.9 447.0,228.5 C445.1,227.2 443.2,225.8 441.5,224.3 C439.8,222.8 438.1,221.3 436.5,219.7 C434.9,218.1 433.4,216.5 432.0,214.8 C430.6,213.1 429.2,211.4 427.9,209.7 C426.7,208.0 425.4,206.2 424.3,204.4 C423.1,202.7 422.1,200.9 421.0,199.1 C420.0,197.3 419.1,195.5 418.2,193.6 C417.3,191.8 416.4,190.0 415.7,188.1 C414.9,186.3 414.2,184.4 413.6,182.5 C413.0,180.7 412.4,178.8 411.9,176.9 C411.4,175.0 411.0,173.1 410.6,171.2 C410.3,169.3 410.0,167.4 409.7,165.6 C409.5,163.7 409.3,161.8 409.2,159.9 C409.1,158.0 409.1,156.1 409.1,154.3 C409.1,152.4 409.2,150.5 409.3,148.7 Z"/></clipPath>
<g clip-path="url(#pc2)">
<rect x="371" y="31" width="226" height="230" fill="url(#bg2)"/>
<rect x="371" y="31" width="226" height="230" fill="url(#bgr2)"/>
<rect x="371" y="31" width="226" height="230" fill="url(#bgs2)"/>
<path d="M409.3,148.7 C409.4,146.8 409.5,145.0 409.7,143.1 C409.9,141.3 410.1,139.5 410.4,137.6 C410.7,135.8 411.0,134.0 411.3,132.2 C411.6,130.3 412.0,128.5 412.4,126.7 C412.8,124.9 413.2,123.0 413.7,121.2 C414.2,119.4 414.7,117.5 415.2,115.7 C415.8,113.8 416.4,111.9 417.0,110.1 C417.7,108.2 418.4,106.3 419.2,104.5 C420.0,102.6 420.8,100.8 421.8,98.9 C422.7,97.1 423.7,95.2 424.8,93.5 C425.9,91.7 427.1,89.9 428.4,88.2 C429.6,86.5 431.0,84.8 432.4,83.2 C433.9,81.5 435.4,80.0 437.0,78.5 C438.7,77.0 440.4,75.6 442.1,74.3 C443.9,73.0 445.8,71.7 447.7,70.6 C449.6,69.5 451.6,68.4 453.7,67.5 C455.7,66.6 457.8,65.7 460.0,65.0 C462.1,64.3 464.3,63.7 466.5,63.2 C468.7,62.7 471.0,62.3 473.2,62.0 C475.5,61.7 477.8,61.6 480.0,61.5 C482.3,61.5 484.6,61.5 486.9,61.7 C489.2,61.9 491.4,62.2 493.7,62.6 C495.9,63.0 498.2,63.5 500.3,64.1 C502.5,64.8 504.7,65.5 506.8,66.3 C508.9,67.2 511.0,68.1 513.0,69.2 C515.0,70.2 516.9,71.4 518.8,72.6 C520.7,73.8 522.5,75.1 524.3,76.5 C526.0,77.9 527.7,79.4 529.3,80.9 C530.8,82.5 532.4,84.1 533.8,85.8 C535.2,87.4 536.6,89.1 537.8,90.9 C539.1,92.6 540.3,94.4 541.4,96.3 C542.5,98.1 543.5,100.0 544.5,101.8 C545.5,103.7 546.4,105.6 547.2,107.5 C548.0,109.4 548.8,111.3 549.5,113.3 C550.2,115.2 550.9,117.1 551.5,119.1 C552.1,121.0 552.6,123.0 553.1,124.9 C553.6,126.9 554.0,128.9 554.4,130.8 C554.7,132.8 555.0,134.8 555.3,136.8 C555.6,138.7 555.8,140.7 555.9,142.7 C556.0,144.7 556.1,146.7 556.1,148.7 C556.1,150.7 556.1,152.7 556.0,154.7 C555.8,156.6 555.6,158.6 555.4,160.6 C555.1,162.6 554.8,164.6 554.4,166.5 C554.0,168.5 553.5,170.4 553.0,172.4 C552.4,174.3 551.8,176.2 551.1,178.1 C550.5,180.0 549.7,181.9 548.9,183.8 C548.1,185.6 547.3,187.5 546.4,189.3 C545.5,191.2 544.5,193.0 543.5,194.8 C542.5,196.6 541.4,198.4 540.3,200.1 C539.2,201.9 538.0,203.7 536.8,205.4 C535.5,207.1 534.3,208.9 532.9,210.6 C531.6,212.3 530.1,214.0 528.7,215.6 C527.2,217.2 525.6,218.9 524.0,220.4 C522.4,222.0 520.7,223.5 518.9,225.0 C517.2,226.4 515.3,227.8 513.4,229.1 C511.4,230.4 509.4,231.7 507.4,232.8 C505.3,233.9 503.1,234.9 500.9,235.8 C498.8,236.6 496.5,237.4 494.2,238.0 C491.9,238.6 489.5,239.0 487.2,239.3 C484.8,239.6 482.4,239.7 480.0,239.7 C477.7,239.7 475.3,239.5 472.9,239.1 C470.6,238.8 468.2,238.3 465.9,237.7 C463.7,237.0 461.4,236.2 459.2,235.3 C457.1,234.4 454.9,233.4 452.9,232.3 C450.8,231.1 448.9,229.9 447.0,228.5 C445.1,227.2 443.2,225.8 441.5,224.3 C439.8,222.8 438.1,221.3 436.5,219.7 C434.9,218.1 433.4,216.5 432.0,214.8 C430.6,213.1 429.2,211.4 427.9,209.7 C426.7,208.0 425.4,206.2 424.3,204.4 C423.1,202.7 422.1,200.9 421.0,199.1 C420.0,197.3 419.1,195.5 418.2,193.6 C417.3,191.8 416.4,190.0 415.7,188.1 C414.9,186.3 414.2,184.4 413.6,182.5 C413.0,180.7 412.4,178.8 411.9,176.9 C411.4,175.0 411.0,173.1 410.6,171.2 C410.3,169.3 410.0,167.4 409.7,165.6 C409.5,163.7 409.3,161.8 409.2,159.9 C409.1,158.0 409.1,156.1 409.1,154.3 C409.1,152.4 409.2,150.5 409.3,148.7 Z" fill="#6656a8" filter="url(#bl6)" opacity="0.45"/>
<g filter="url(#bl2)">
<path d="M409.3,148.7 C409.4,146.8 409.5,145.0 409.7,143.1 C409.9,141.3 410.1,139.5 410.4,137.6 C410.7,135.8 411.0,134.0 411.3,132.2 C411.6,130.3 412.0,128.5 412.4,126.7 C412.8,124.9 413.2,123.0 413.7,121.2 C414.2,119.4 414.7,117.5 415.2,115.7 C415.8,113.8 416.4,111.9 417.0,110.1 C417.7,108.2 418.4,106.3 419.2,104.5 C420.0,102.6 420.8,100.8 421.8,98.9 C422.7,97.1 423.7,95.2 424.8,93.5 C425.9,91.7 427.1,89.9 428.4,88.2 C429.6,86.5 431.0,84.8 432.4,83.2 C433.9,81.5 435.4,80.0 437.0,78.5 C438.7,77.0 440.4,75.6 442.1,74.3 C443.9,73.0 445.8,71.7 447.7,70.6 C449.6,69.5 451.6,68.4 453.7,67.5 C455.7,66.6 457.8,65.7 460.0,65.0 C462.1,64.3 464.3,63.7 466.5,63.2 C468.7,62.7 471.0,62.3 473.2,62.0 C475.5,61.7 477.8,61.6 480.0,61.5 C482.3,61.5 484.6,61.5 486.9,61.7 C489.2,61.9 491.4,62.2 493.7,62.6 C495.9,63.0 498.2,63.5 500.3,64.1 C502.5,64.8 504.7,65.5 506.8,66.3 C508.9,67.2 511.0,68.1 513.0,69.2 C515.0,70.2 516.9,71.4 518.8,72.6 C520.7,73.8 522.5,75.1 524.3,76.5 C526.0,77.9 527.7,79.4 529.3,80.9 C530.8,82.5 532.4,84.1 533.8,85.8 C535.2,87.4 536.6,89.1 537.8,90.9 C539.1,92.6 540.3,94.4 541.4,96.3 C542.5,98.1 543.5,100.0 544.5,101.8 C545.5,103.7 546.4,105.6 547.2,107.5 C548.0,109.4 548.8,111.3 549.5,113.3 C550.2,115.2 550.9,117.1 551.5,119.1 C552.1,121.0 552.6,123.0 553.1,124.9 C553.6,126.9 554.0,128.9 554.4,130.8 C554.7,132.8 555.0,134.8 555.3,136.8 C555.6,138.7 555.8,140.7 555.9,142.7 C556.0,144.7 556.1,146.7 556.1,148.7 C556.1,150.7 556.1,152.7 556.0,154.7 C555.8,156.6 555.6,158.6 555.4,160.6 C555.1,162.6 554.8,164.6 554.4,166.5 C554.0,168.5 553.5,170.4 553.0,172.4 C552.4,174.3 551.8,176.2 551.1,178.1 C550.5,180.0 549.7,181.9 548.9,183.8 C548.1,185.6 547.3,187.5 546.4,189.3 C545.5,191.2 544.5,193.0 543.5,194.8 C542.5,196.6 541.4,198.4 540.3,200.1 C539.2,201.9 538.0,203.7 536.8,205.4 C535.5,207.1 534.3,208.9 532.9,210.6 C531.6,212.3 530.1,214.0 528.7,215.6 C527.2,217.2 525.6,218.9 524.0,220.4 C522.4,222.0 520.7,223.5 518.9,225.0 C517.2,226.4 515.3,227.8 513.4,229.1 C511.4,230.4 509.4,231.7 507.4,232.8 C505.3,233.9 503.1,234.9 500.9,235.8 C498.8,236.6 496.5,237.4 494.2,238.0 C491.9,238.6 489.5,239.0 487.2,239.3 C484.8,239.6 482.4,239.7 480.0,239.7 C477.7,239.7 475.3,239.5 472.9,239.1 C470.6,238.8 468.2,238.3 465.9,237.7 C463.7,237.0 461.4,236.2 459.2,235.3 C457.1,234.4 454.9,233.4 452.9,232.3 C450.8,231.1 448.9,229.9 447.0,228.5 C445.1,227.2 443.2,225.8 441.5,224.3 C439.8,222.8 438.1,221.3 436.5,219.7 C434.9,218.1 433.4,216.5 432.0,214.8 C430.6,213.1 429.2,211.4 427.9,209.7 C426.7,208.0 425.4,206.2 424.3,204.4 C423.1,202.7 422.1,200.9 421.0,199.1 C420.0,197.3 419.1,195.5 418.2,193.6 C417.3,191.8 416.4,190.0 415.7,188.1 C414.9,186.3 414.2,184.4 413.6,182.5 C413.0,180.7 412.4,178.8 411.9,176.9 C411.4,175.0 411.0,173.1 410.6,171.2 C410.3,169.3 410.0,167.4 409.7,165.6 C409.5,163.7 409.3,161.8 409.2,159.9 C409.1,158.0 409.1,156.1 409.1,154.3 C409.1,152.4 409.2,150.5 409.3,148.7 Z" fill="url(#eb2)"/>
<g clip-path="url(#ec2)">
<path d="M405,50 L467,50 L469,80 L472,100 L479,118 L483,160 L484.5,205 L488,250 L405,250 Z" fill="url(#pk2)" filter="url(#bl3)"/>
<ellipse cx="445" cy="82" rx="32" ry="20" fill="#c4aab4" opacity="0.45" filter="url(#bl8)"/>
<ellipse cx="440" cy="232" rx="30" ry="12" fill="#d0b4c0" opacity="0.5" filter="url(#bl6)"/>
<ellipse cx="482" cy="68" rx="42" ry="14" fill="#a89890" opacity="0.45" filter="url(#bl8)"/>
<rect x="487" y="80" width="8" height="160" fill="#f6efe2" opacity="0.45" filter="url(#bl4)"/>
<path d="M409.3,148.7 C409.4,146.8 409.5,145.0 409.7,143.1 C409.9,141.3 410.1,139.5 410.4,137.6 C410.7,135.8 411.0,134.0 411.3,132.2 C411.6,130.3 412.0,128.5 412.4,126.7 C412.8,124.9 413.2,123.0 413.7,121.2 C414.2,119.4 414.7,117.5 415.2,115.7 C415.8,113.8 416.4,111.9 417.0,110.1 C417.7,108.2 418.4,106.3 419.2,104.5 C420.0,102.6 420.8,100.8 421.8,98.9 C422.7,97.1 423.7,95.2 424.8,93.5 C425.9,91.7 427.1,89.9 428.4,88.2 C429.6,86.5 431.0,84.8 432.4,83.2 C433.9,81.5 435.4,80.0 437.0,78.5 C438.7,77.0 440.4,75.6 442.1,74.3 C443.9,73.0 445.8,71.7 447.7,70.6 C449.6,69.5 451.6,68.4 453.7,67.5 C455.7,66.6 457.8,65.7 460.0,65.0 C462.1,64.3 464.3,63.7 466.5,63.2 C468.7,62.7 471.0,62.3 473.2,62.0 C475.5,61.7 477.8,61.6 480.0,61.5 C482.3,61.5 484.6,61.5 486.9,61.7 C489.2,61.9 491.4,62.2 493.7,62.6 C495.9,63.0 498.2,63.5 500.3,64.1 C502.5,64.8 504.7,65.5 506.8,66.3 C508.9,67.2 511.0,68.1 513.0,69.2 C515.0,70.2 516.9,71.4 518.8,72.6 C520.7,73.8 522.5,75.1 524.3,76.5 C526.0,77.9 527.7,79.4 529.3,80.9 C530.8,82.5 532.4,84.1 533.8,85.8 C535.2,87.4 536.6,89.1 537.8,90.9 C539.1,92.6 540.3,94.4 541.4,96.3 C542.5,98.1 543.5,100.0 544.5,101.8 C545.5,103.7 546.4,105.6 547.2,107.5 C548.0,109.4 548.8,111.3 549.5,113.3 C550.2,115.2 550.9,117.1 551.5,119.1 C552.1,121.0 552.6,123.0 553.1,124.9 C553.6,126.9 554.0,128.9 554.4,130.8 C554.7,132.8 555.0,134.8 555.3,136.8 C555.6,138.7 555.8,140.7 555.9,142.7 C556.0,144.7 556.1,146.7 556.1,148.7 C556.1,150.7 556.1,152.7 556.0,154.7 C555.8,156.6 555.6,158.6 555.4,160.6 C555.1,162.6 554.8,164.6 554.4,166.5 C554.0,168.5 553.5,170.4 553.0,172.4 C552.4,174.3 551.8,176.2 551.1,178.1 C550.5,180.0 549.7,181.9 548.9,183.8 C548.1,185.6 547.3,187.5 546.4,189.3 C545.5,191.2 544.5,193.0 543.5,194.8 C542.5,196.6 541.4,198.4 540.3,200.1 C539.2,201.9 538.0,203.7 536.8,205.4 C535.5,207.1 534.3,208.9 532.9,210.6 C531.6,212.3 530.1,214.0 528.7,215.6 C527.2,217.2 525.6,218.9 524.0,220.4 C522.4,222.0 520.7,223.5 518.9,225.0 C517.2,226.4 515.3,227.8 513.4,229.1 C511.4,230.4 509.4,231.7 507.4,232.8 C505.3,233.9 503.1,234.9 500.9,235.8 C498.8,236.6 496.5,237.4 494.2,238.0 C491.9,238.6 489.5,239.0 487.2,239.3 C484.8,239.6 482.4,239.7 480.0,239.7 C477.7,239.7 475.3,239.5 472.9,239.1 C470.6,238.8 468.2,238.3 465.9,237.7 C463.7,237.0 461.4,236.2 459.2,235.3 C457.1,234.4 454.9,233.4 452.9,232.3 C450.8,231.1 448.9,229.9 447.0,228.5 C445.1,227.2 443.2,225.8 441.5,224.3 C439.8,222.8 438.1,221.3 436.5,219.7 C434.9,218.1 433.4,216.5 432.0,214.8 C430.6,213.1 429.2,211.4 427.9,209.7 C426.7,208.0 425.4,206.2 424.3,204.4 C423.1,202.7 422.1,200.9 421.0,199.1 C420.0,197.3 419.1,195.5 418.2,193.6 C417.3,191.8 416.4,190.0 415.7,188.1 C414.9,186.3 414.2,184.4 413.6,182.5 C413.0,180.7 412.4,178.8 411.9,176.9 C411.4,175.0 411.0,173.1 410.6,171.2 C410.3,169.3 410.0,167.4 409.7,165.6 C409.5,163.7 409.3,161.8 409.2,159.9 C409.1,158.0 409.1,156.1 409.1,154.3 C409.1,152.4 409.2,150.5 409.3,148.7 Z" fill="none" stroke="#8478a8" stroke-width="14" opacity="0.35" filter="url(#bl6)"/>
<ellipse cx="480" cy="60" rx="40" ry="14" fill="#9a8aa8" opacity="0.45" filter="url(#bl6)"/>
</g>
</g>
<g clip-path="url(#ec2)" filter="url(#bl04)">
<rect x="405" y="55" width="90" height="195" filter="url(#grain)" opacity="0.65" mask="url(#gm2)"/>
<circle cx="465.2" cy="94.8" r="0.4" fill="#5e2a4c" opacity="0.42"/>
<circle cx="440.8" cy="165.5" r="0.7" fill="#5e2a4c" opacity="0.41"/>
<circle cx="434.0" cy="141.3" r="0.7" fill="#5e2a4c" opacity="0.25"/>
<circle cx="474.4" cy="226.3" r="0.7" fill="#5e2a4c" opacity="0.23"/>
<circle cx="434.5" cy="138.5" r="0.6" fill="#5e2a4c" opacity="0.42"/>
<circle cx="456.7" cy="85.5" r="0.5" fill="#5e2a4c" opacity="0.38"/>
<circle cx="416.9" cy="81.2" r="0.6" fill="#5e2a4c" opacity="0.22"/>
<circle cx="457.2" cy="83.8" r="0.5" fill="#5e2a4c" opacity="0.49"/>
<circle cx="413.7" cy="82.2" r="0.6" fill="#5e2a4c" opacity="0.44"/>
<circle cx="451.8" cy="228.4" r="0.6" fill="#5e2a4c" opacity="0.30"/>
<circle cx="427.9" cy="103.2" r="0.4" fill="#5e2a4c" opacity="0.35"/>
<circle cx="420.2" cy="185.1" r="0.5" fill="#5e2a4c" opacity="0.23"/>
<circle cx="462.7" cy="135.3" r="0.5" fill="#5e2a4c" opacity="0.22"/>
<circle cx="424.2" cy="161.9" r="0.6" fill="#5e2a4c" opacity="0.37"/>
<circle cx="457.0" cy="168.1" r="0.5" fill="#5e2a4c" opacity="0.24"/>
<circle cx="424.9" cy="173.9" r="0.4" fill="#5e2a4c" opacity="0.33"/>
<circle cx="417.3" cy="215.5" r="0.5" fill="#5e2a4c" opacity="0.34"/>
<circle cx="436.7" cy="111.5" r="0.4" fill="#5e2a4c" opacity="0.28"/>
<circle cx="430.3" cy="151.2" r="0.7" fill="#5e2a4c" opacity="0.32"/>
<circle cx="454.9" cy="229.3" r="0.5" fill="#5e2a4c" opacity="0.45"/>
<circle cx="477.9" cy="183.6" r="0.4" fill="#5e2a4c" opacity="0.29"/>
<circle cx="476.5" cy="137.8" r="0.6" fill="#5e2a4c" opacity="0.53"/>
<circle cx="478.3" cy="158.8" r="0.7" fill="#5e2a4c" opacity="0.41"/>
<circle cx="455.8" cy="107.0" r="0.4" fill="#5e2a4c" opacity="0.30"/>
<circle cx="436.8" cy="159.6" r="0.6" fill="#5e2a4c" opacity="0.53"/>
<circle cx="458.4" cy="94.2" r="0.5" fill="#5e2a4c" opacity="0.25"/>
<circle cx="440.8" cy="230.4" r="0.5" fill="#5e2a4c" opacity="0.28"/>
<circle cx="436.9" cy="92.4" r="0.4" fill="#5e2a4c" opacity="0.30"/>
<circle cx="429.1" cy="82.9" r="0.4" fill="#5e2a4c" opacity="0.53"/>
<circle cx="424.2" cy="221.9" r="0.4" fill="#5e2a4c" opacity="0.43"/>
<circle cx="417.5" cy="127.9" r="0.4" fill="#5e2a4c" opacity="0.35"/>
<circle cx="450.7" cy="123.4" r="0.4" fill="#5e2a4c" opacity="0.36"/>
<circle cx="453.8" cy="183.0" r="0.5" fill="#5e2a4c" opacity="0.29"/>
<circle cx="447.5" cy="140.0" r="0.4" fill="#5e2a4c" opacity="0.47"/>
<circle cx="457.6" cy="191.7" r="0.7" fill="#5e2a4c" opacity="0.32"/>
<circle cx="470.2" cy="232.5" r="0.7" fill="#5e2a4c" opacity="0.47"/>
<circle cx="418.1" cy="164.0" r="0.5" fill="#5e2a4c" opacity="0.41"/>
<circle cx="468.3" cy="121.1" r="0.5" fill="#5e2a4c" opacity="0.37"/>
<circle cx="434.2" cy="208.8" r="0.7" fill="#5e2a4c" opacity="0.43"/>
<circle cx="459.5" cy="175.0" r="0.5" fill="#5e2a4c" opacity="0.31"/>
<circle cx="479.8" cy="138.1" r="0.4" fill="#5e2a4c" opacity="0.39"/>
<circle cx="417.4" cy="160.4" r="0.7" fill="#5e2a4c" opacity="0.33"/>
<circle cx="423.2" cy="217.6" r="0.5" fill="#5e2a4c" opacity="0.50"/>
<circle cx="463.1" cy="152.0" r="0.6" fill="#5e2a4c" opacity="0.23"/>
<circle cx="451.0" cy="90.0" r="0.4" fill="#5e2a4c" opacity="0.23"/>
<circle cx="436.0" cy="223.6" r="0.4" fill="#5e2a4c" opacity="0.21"/>
<circle cx="433.5" cy="214.1" r="0.7" fill="#5e2a4c" opacity="0.49"/>
<circle cx="480.2" cy="140.8" r="0.5" fill="#5e2a4c" opacity="0.45"/>
<circle cx="461.7" cy="145.7" r="0.7" fill="#5e2a4c" opacity="0.27"/>
<circle cx="447.5" cy="137.0" r="0.6" fill="#5e2a4c" opacity="0.47"/>
<circle cx="427.6" cy="167.1" r="0.6" fill="#5e2a4c" opacity="0.46"/>
<circle cx="452.5" cy="137.7" r="0.5" fill="#5e2a4c" opacity="0.47"/>
<circle cx="454.5" cy="235.1" r="0.4" fill="#5e2a4c" opacity="0.26"/>
<circle cx="462.0" cy="109.0" r="0.4" fill="#5e2a4c" opacity="0.52"/>
<circle cx="427.9" cy="170.9" r="0.7" fill="#5e2a4c" opacity="0.37"/>
<circle cx="425.5" cy="183.9" r="0.6" fill="#5e2a4c" opacity="0.36"/>
<circle cx="424.3" cy="99.3" r="0.5" fill="#5e2a4c" opacity="0.39"/>
<circle cx="450.7" cy="189.0" r="0.7" fill="#5e2a4c" opacity="0.33"/>
<circle cx="420.8" cy="118.6" r="0.4" fill="#5e2a4c" opacity="0.31"/>
<circle cx="468.0" cy="204.9" r="0.5" fill="#5e2a4c" opacity="0.24"/>
<circle cx="429.1" cy="134.5" r="0.6" fill="#5e2a4c" opacity="0.25"/>
<circle cx="487.7" cy="173.1" r="0.4" fill="#5e2a4c" opacity="0.29"/>
<circle cx="416.2" cy="149.4" r="0.4" fill="#5e2a4c" opacity="0.46"/>
<circle cx="440.8" cy="126.8" r="0.7" fill="#5e2a4c" opacity="0.29"/>
<circle cx="453.2" cy="200.8" r="0.7" fill="#5e2a4c" opacity="0.37"/>
<circle cx="432.9" cy="237.7" r="0.5" fill="#5e2a4c" opacity="0.36"/>
<circle cx="447.3" cy="153.5" r="0.4" fill="#5e2a4c" opacity="0.49"/>
<circle cx="489.4" cy="162.6" r="0.4" fill="#5e2a4c" opacity="0.31"/>
<circle cx="472.9" cy="230.5" r="0.4" fill="#5e2a4c" opacity="0.26"/>
<circle cx="458.7" cy="125.9" r="0.7" fill="#5e2a4c" opacity="0.28"/>
<circle cx="452.8" cy="161.8" r="0.7" fill="#5e2a4c" opacity="0.22"/>
<circle cx="423.4" cy="148.0" r="0.5" fill="#5e2a4c" opacity="0.30"/>
<circle cx="474.1" cy="171.6" r="0.7" fill="#5e2a4c" opacity="0.48"/>
<circle cx="456.0" cy="87.0" r="0.4" fill="#5e2a4c" opacity="0.36"/>
<circle cx="451.8" cy="173.1" r="0.5" fill="#5e2a4c" opacity="0.42"/>
<circle cx="456.5" cy="120.1" r="0.6" fill="#5e2a4c" opacity="0.27"/>
<circle cx="456.8" cy="105.5" r="0.5" fill="#5e2a4c" opacity="0.26"/>
<circle cx="460.6" cy="184.2" r="0.6" fill="#5e2a4c" opacity="0.27"/>
<circle cx="441.0" cy="221.6" r="0.6" fill="#5e2a4c" opacity="0.42"/>
<circle cx="431.9" cy="127.6" r="0.7" fill="#5e2a4c" opacity="0.42"/>
<circle cx="447.9" cy="180.3" r="0.7" fill="#5e2a4c" opacity="0.28"/>
<circle cx="478.6" cy="180.4" r="0.5" fill="#5e2a4c" opacity="0.45"/>
<circle cx="427.3" cy="109.1" r="0.5" fill="#5e2a4c" opacity="0.49"/>
<circle cx="480.0" cy="207.4" r="0.7" fill="#5e2a4c" opacity="0.25"/>
<circle cx="412.4" cy="201.9" r="0.7" fill="#5e2a4c" opacity="0.23"/>
<circle cx="456.8" cy="196.0" r="0.7" fill="#5e2a4c" opacity="0.32"/>
<circle cx="432.5" cy="238.2" r="0.6" fill="#5e2a4c" opacity="0.51"/>
<circle cx="454.7" cy="200.1" r="0.4" fill="#5e2a4c" opacity="0.40"/>
<circle cx="466.1" cy="156.0" r="0.7" fill="#5e2a4c" opacity="0.54"/>
<circle cx="452.9" cy="191.8" r="0.6" fill="#5e2a4c" opacity="0.33"/>
<circle cx="481.1" cy="150.4" r="0.4" fill="#5e2a4c" opacity="0.21"/>
<circle cx="485.1" cy="233.9" r="0.4" fill="#5e2a4c" opacity="0.24"/>
<circle cx="471.7" cy="198.2" r="0.7" fill="#5e2a4c" opacity="0.22"/>
<circle cx="457.4" cy="93.2" r="0.5" fill="#5e2a4c" opacity="0.55"/>
<circle cx="439.6" cy="164.0" r="0.7" fill="#5e2a4c" opacity="0.36"/>
<circle cx="439.1" cy="228.2" r="0.7" fill="#5e2a4c" opacity="0.54"/>
<circle cx="451.7" cy="151.6" r="0.6" fill="#5e2a4c" opacity="0.24"/>
<circle cx="429.1" cy="153.3" r="0.4" fill="#5e2a4c" opacity="0.38"/>
<circle cx="412.3" cy="132.8" r="0.5" fill="#5e2a4c" opacity="0.27"/>
<circle cx="472.6" cy="147.7" r="0.7" fill="#5e2a4c" opacity="0.25"/>
<circle cx="450.2" cy="113.0" r="0.5" fill="#5e2a4c" opacity="0.54"/>
<circle cx="414.4" cy="113.3" r="0.7" fill="#5e2a4c" opacity="0.37"/>
<circle cx="462.5" cy="163.2" r="0.7" fill="#5e2a4c" opacity="0.24"/>
<circle cx="439.2" cy="111.4" r="0.6" fill="#5e2a4c" opacity="0.36"/>
<circle cx="419.9" cy="160.6" r="0.6" fill="#5e2a4c" opacity="0.41"/>
<circle cx="466.9" cy="104.9" r="0.4" fill="#5e2a4c" opacity="0.24"/>
<circle cx="422.9" cy="209.1" r="0.6" fill="#5e2a4c" opacity="0.39"/>
<circle cx="470.2" cy="193.7" r="0.4" fill="#5e2a4c" opacity="0.22"/>
<circle cx="428.7" cy="150.1" r="0.5" fill="#5e2a4c" opacity="0.45"/>
<circle cx="420.8" cy="112.2" r="0.7" fill="#5e2a4c" opacity="0.29"/>
<circle cx="443.6" cy="227.5" r="0.7" fill="#5e2a4c" opacity="0.45"/>
<circle cx="426.6" cy="145.8" r="0.7" fill="#5e2a4c" opacity="0.30"/>
<circle cx="434.3" cy="229.4" r="0.6" fill="#5e2a4c" opacity="0.34"/>
<circle cx="437.5" cy="108.3" r="0.4" fill="#5e2a4c" opacity="0.32"/>
<circle cx="431.3" cy="144.7" r="0.4" fill="#5e2a4c" opacity="0.27"/>
<circle cx="452.6" cy="216.3" r="0.7" fill="#5e2a4c" opacity="0.24"/>
<circle cx="445.2" cy="82.3" r="0.4" fill="#5e2a4c" opacity="0.40"/>
<circle cx="480.6" cy="202.6" r="0.5" fill="#5e2a4c" opacity="0.34"/>
<circle cx="458.9" cy="220.9" r="0.7" fill="#5e2a4c" opacity="0.24"/>
<circle cx="440.0" cy="233.9" r="0.4" fill="#5e2a4c" opacity="0.31"/>
<circle cx="461.9" cy="128.8" r="0.7" fill="#5e2a4c" opacity="0.53"/>
<circle cx="450.0" cy="230.0" r="0.5" fill="#5e2a4c" opacity="0.42"/>
<circle cx="478.7" cy="200.5" r="0.5" fill="#5e2a4c" opacity="0.40"/>
<circle cx="425.5" cy="130.1" r="0.6" fill="#5e2a4c" opacity="0.44"/>
<circle cx="435.2" cy="126.3" r="0.4" fill="#5e2a4c" opacity="0.25"/>
<circle cx="461.2" cy="218.9" r="0.6" fill="#5e2a4c" opacity="0.26"/>
<circle cx="458.1" cy="92.3" r="0.6" fill="#5e2a4c" opacity="0.51"/>
<circle cx="437.0" cy="124.0" r="0.7" fill="#5e2a4c" opacity="0.35"/>
<circle cx="447.7" cy="156.4" r="0.6" fill="#5e2a4c" opacity="0.50"/>
<circle cx="436.5" cy="113.6" r="0.4" fill="#5e2a4c" opacity="0.54"/>
<circle cx="466.5" cy="89.0" r="0.7" fill="#5e2a4c" opacity="0.49"/>
<circle cx="480.6" cy="227.0" r="0.7" fill="#5e2a4c" opacity="0.24"/>
<circle cx="436.1" cy="218.1" r="0.5" fill="#5e2a4c" opacity="0.24"/>
<circle cx="450.3" cy="175.8" r="0.5" fill="#5e2a4c" opacity="0.26"/>
<circle cx="445.8" cy="125.0" r="0.6" fill="#5e2a4c" opacity="0.23"/>
<circle cx="480.4" cy="221.7" r="0.5" fill="#5e2a4c" opacity="0.21"/>
<circle cx="428.9" cy="134.9" r="0.4" fill="#5e2a4c" opacity="0.41"/>
<circle cx="427.1" cy="230.6" r="0.5" fill="#5e2a4c" opacity="0.25"/>
<circle cx="442.1" cy="205.3" r="0.4" fill="#5e2a4c" opacity="0.25"/>
<circle cx="443.0" cy="187.0" r="0.5" fill="#5e2a4c" opacity="0.51"/>
<circle cx="439.1" cy="229.0" r="0.6" fill="#5e2a4c" opacity="0.41"/>
<circle cx="420.3" cy="220.2" r="0.6" fill="#5e2a4c" opacity="0.38"/>
<circle cx="474.7" cy="199.9" r="0.4" fill="#5e2a4c" opacity="0.34"/>
<circle cx="457.2" cy="83.3" r="0.6" fill="#5e2a4c" opacity="0.38"/>
<circle cx="487.9" cy="211.4" r="0.4" fill="#5e2a4c" opacity="0.49"/>
<circle cx="416.1" cy="233.2" r="0.6" fill="#5e2a4c" opacity="0.35"/>
<circle cx="469.2" cy="234.4" r="0.6" fill="#5e2a4c" opacity="0.27"/>
<circle cx="428.7" cy="107.1" r="0.4" fill="#5e2a4c" opacity="0.44"/>
<circle cx="442.7" cy="165.0" r="0.5" fill="#5e2a4c" opacity="0.40"/>
<circle cx="428.7" cy="157.0" r="0.6" fill="#5e2a4c" opacity="0.26"/>
<circle cx="433.2" cy="113.1" r="0.7" fill="#5e2a4c" opacity="0.26"/>
<circle cx="428.6" cy="179.8" r="0.6" fill="#5e2a4c" opacity="0.21"/>
<circle cx="429.0" cy="156.9" r="0.5" fill="#5e2a4c" opacity="0.25"/>
<circle cx="430.2" cy="233.8" r="0.7" fill="#5e2a4c" opacity="0.21"/>
<circle cx="480.4" cy="133.7" r="0.6" fill="#5e2a4c" opacity="0.48"/>
<circle cx="453.4" cy="220.3" r="0.5" fill="#5e2a4c" opacity="0.36"/>
<circle cx="458.7" cy="183.7" r="0.6" fill="#5e2a4c" opacity="0.53"/>
<circle cx="438.7" cy="125.5" r="0.7" fill="#5e2a4c" opacity="0.30"/>
<circle cx="422.3" cy="161.6" r="0.6" fill="#5e2a4c" opacity="0.30"/>
<circle cx="420.8" cy="116.4" r="0.4" fill="#5e2a4c" opacity="0.20"/>
<circle cx="485.2" cy="119.0" r="0.4" fill="#5e2a4c" opacity="0.29"/>
<circle cx="448.5" cy="188.3" r="0.6" fill="#5e2a4c" opacity="0.31"/>
<circle cx="445.7" cy="195.8" r="0.7" fill="#5e2a4c" opacity="0.32"/>
<circle cx="447.8" cy="192.6" r="0.7" fill="#5e2a4c" opacity="0.30"/>
<circle cx="435.0" cy="135.8" r="0.4" fill="#5e2a4c" opacity="0.49"/>
<circle cx="428.2" cy="215.8" r="0.5" fill="#5e2a4c" opacity="0.43"/>
<circle cx="414.1" cy="207.0" r="0.4" fill="#5e2a4c" opacity="0.40"/>
<circle cx="465.7" cy="88.9" r="0.6" fill="#5e2a4c" opacity="0.24"/>
<circle cx="419.4" cy="168.5" r="0.5" fill="#5e2a4c" opacity="0.48"/>
<circle cx="454.4" cy="122.8" r="0.5" fill="#5e2a4c" opacity="0.33"/>
<circle cx="480.9" cy="184.3" r="0.4" fill="#5e2a4c" opacity="0.37"/>
<circle cx="419.9" cy="233.7" r="0.5" fill="#5e2a4c" opacity="0.31"/>
<circle cx="452.6" cy="198.0" r="0.4" fill="#5e2a4c" opacity="0.51"/>
<circle cx="419.5" cy="81.5" r="0.5" fill="#5e2a4c" opacity="0.36"/>
<circle cx="481.7" cy="119.9" r="0.4" fill="#5e2a4c" opacity="0.23"/>
<circle cx="469.5" cy="112.8" r="0.6" fill="#5e2a4c" opacity="0.43"/>
<circle cx="432.3" cy="155.2" r="0.7" fill="#5e2a4c" opacity="0.39"/>
<circle cx="483.6" cy="121.0" r="0.6" fill="#5e2a4c" opacity="0.35"/>
<circle cx="471.5" cy="205.1" r="0.5" fill="#5e2a4c" opacity="0.53"/>
<circle cx="483.5" cy="148.1" r="0.7" fill="#5e2a4c" opacity="0.54"/>
<circle cx="424.3" cy="181.7" r="0.5" fill="#5e2a4c" opacity="0.43"/>
<circle cx="446.1" cy="122.6" r="0.4" fill="#5e2a4c" opacity="0.48"/>
<circle cx="471.9" cy="229.6" r="0.5" fill="#5e2a4c" opacity="0.49"/>
<circle cx="417.0" cy="164.2" r="0.7" fill="#5e2a4c" opacity="0.24"/>
<circle cx="485.2" cy="237.5" r="0.4" fill="#5e2a4c" opacity="0.41"/>
<circle cx="467.8" cy="144.8" r="0.4" fill="#5e2a4c" opacity="0.53"/>
<circle cx="453.6" cy="116.4" r="0.4" fill="#5e2a4c" opacity="0.23"/>
<circle cx="439.8" cy="236.9" r="0.6" fill="#5e2a4c" opacity="0.44"/>
<circle cx="445.0" cy="228.5" r="0.7" fill="#5e2a4c" opacity="0.28"/>
<circle cx="447.7" cy="223.1" r="0.7" fill="#5e2a4c" opacity="0.21"/>
<circle cx="421.6" cy="209.8" r="0.6" fill="#5e2a4c" opacity="0.39"/>
<circle cx="440.1" cy="107.4" r="0.5" fill="#5e2a4c" opacity="0.32"/>
<circle cx="462.0" cy="94.7" r="0.7" fill="#5e2a4c" opacity="0.30"/>
<circle cx="459.6" cy="126.3" r="0.5" fill="#5e2a4c" opacity="0.55"/>
<circle cx="441.5" cy="167.9" r="0.5" fill="#5e2a4c" opacity="0.20"/>
<circle cx="455.2" cy="130.3" r="0.6" fill="#5e2a4c" opacity="0.47"/>
<circle cx="466.7" cy="179.9" r="0.7" fill="#5e2a4c" opacity="0.46"/>
<circle cx="432.9" cy="208.2" r="0.6" fill="#5e2a4c" opacity="0.34"/>
<circle cx="462.7" cy="236.2" r="0.6" fill="#5e2a4c" opacity="0.34"/>
<circle cx="435.5" cy="136.5" r="0.5" fill="#5e2a4c" opacity="0.27"/>
<circle cx="414.5" cy="146.2" r="0.7" fill="#5e2a4c" opacity="0.30"/>
<circle cx="458.9" cy="230.9" r="0.5" fill="#5e2a4c" opacity="0.24"/>
<circle cx="481.6" cy="233.8" r="0.6" fill="#5e2a4c" opacity="0.27"/>
<circle cx="469.8" cy="84.1" r="0.7" fill="#5e2a4c" opacity="0.51"/>
<circle cx="445.9" cy="198.0" r="0.6" fill="#5e2a4c" opacity="0.27"/>
<circle cx="477.3" cy="173.9" r="0.6" fill="#5e2a4c" opacity="0.21"/>
<circle cx="424.3" cy="91.0" r="0.5" fill="#5e2a4c" opacity="0.43"/>
<circle cx="431.3" cy="102.7" r="0.6" fill="#5e2a4c" opacity="0.46"/>
<circle cx="442.3" cy="87.2" r="0.4" fill="#5e2a4c" opacity="0.35"/>
<circle cx="473.7" cy="188.5" r="0.5" fill="#5e2a4c" opacity="0.24"/>
<circle cx="469.2" cy="113.9" r="0.5" fill="#5e2a4c" opacity="0.25"/>
<circle cx="428.8" cy="208.4" r="0.4" fill="#5e2a4c" opacity="0.23"/>
<circle cx="420.0" cy="192.2" r="0.6" fill="#5e2a4c" opacity="0.33"/>
<circle cx="423.9" cy="197.7" r="0.6" fill="#5e2a4c" opacity="0.31"/>
<circle cx="420.7" cy="227.3" r="0.5" fill="#5e2a4c" opacity="0.27"/>
<circle cx="413.3" cy="125.8" r="0.6" fill="#5e2a4c" opacity="0.29"/>
<circle cx="487.0" cy="157.1" r="0.5" fill="#5e2a4c" opacity="0.22"/>
<circle cx="485.5" cy="199.9" r="0.7" fill="#5e2a4c" opacity="0.26"/>
<circle cx="412.4" cy="102.2" r="0.6" fill="#5e2a4c" opacity="0.54"/>
<circle cx="426.5" cy="83.7" r="0.7" fill="#5e2a4c" opacity="0.26"/>
<circle cx="483.1" cy="235.2" r="0.7" fill="#5e2a4c" opacity="0.27"/>
<circle cx="470.2" cy="115.2" r="0.7" fill="#5e2a4c" opacity="0.36"/>
<circle cx="421.7" cy="172.1" r="0.5" fill="#5e2a4c" opacity="0.26"/>
<circle cx="447.1" cy="122.3" r="0.4" fill="#5e2a4c" opacity="0.24"/>
<circle cx="436.0" cy="231.4" r="0.4" fill="#5e2a4c" opacity="0.54"/>
<circle cx="423.1" cy="111.8" r="0.5" fill="#5e2a4c" opacity="0.23"/>
<circle cx="489.7" cy="215.3" r="0.5" fill="#5e2a4c" opacity="0.36"/>
<circle cx="466.8" cy="217.9" r="0.6" fill="#5e2a4c" opacity="0.35"/>
<circle cx="423.0" cy="187.2" r="0.4" fill="#5e2a4c" opacity="0.54"/>
<circle cx="418.7" cy="198.7" r="0.6" fill="#5e2a4c" opacity="0.26"/>
<circle cx="429.2" cy="87.9" r="0.4" fill="#5e2a4c" opacity="0.31"/>
<circle cx="477.7" cy="142.2" r="0.5" fill="#5e2a4c" opacity="0.53"/>
<circle cx="466.9" cy="133.6" r="0.5" fill="#5e2a4c" opacity="0.51"/>
<circle cx="418.2" cy="179.5" r="0.7" fill="#5e2a4c" opacity="0.44"/>
<circle cx="464.8" cy="132.4" r="0.6" fill="#5e2a4c" opacity="0.37"/>
<circle cx="484.5" cy="207.1" r="0.7" fill="#5e2a4c" opacity="0.45"/>
<circle cx="434.8" cy="182.4" r="0.6" fill="#5e2a4c" opacity="0.37"/>
<circle cx="471.7" cy="195.2" r="0.5" fill="#5e2a4c" opacity="0.55"/>
<circle cx="450.4" cy="86.0" r="0.7" fill="#5e2a4c" opacity="0.50"/>
<circle cx="433.9" cy="118.2" r="0.6" fill="#5e2a4c" opacity="0.48"/>
<circle cx="420.4" cy="153.6" r="0.4" fill="#5e2a4c" opacity="0.33"/>
<circle cx="474.9" cy="227.3" r="0.4" fill="#5e2a4c" opacity="0.25"/>
<circle cx="415.3" cy="179.1" r="0.7" fill="#5e2a4c" opacity="0.27"/>
<circle cx="454.3" cy="192.1" r="0.5" fill="#5e2a4c" opacity="0.40"/>
<circle cx="435.1" cy="143.2" r="0.6" fill="#5e2a4c" opacity="0.51"/>
<circle cx="473.6" cy="167.3" r="0.5" fill="#5e2a4c" opacity="0.54"/>
<circle cx="446.0" cy="230.6" r="0.6" fill="#5e2a4c" opacity="0.33"/>
<circle cx="441.3" cy="234.7" r="0.5" fill="#5e2a4c" opacity="0.23"/>
<circle cx="444.9" cy="206.7" r="0.7" fill="#5e2a4c" opacity="0.49"/>
<circle cx="422.3" cy="122.1" r="0.7" fill="#5e2a4c" opacity="0.32"/>
<circle cx="416.3" cy="137.1" r="0.5" fill="#5e2a4c" opacity="0.28"/>
<circle cx="459.7" cy="163.0" r="0.7" fill="#5e2a4c" opacity="0.41"/>
<circle cx="449.9" cy="121.8" r="0.6" fill="#5e2a4c" opacity="0.26"/>
<circle cx="423.6" cy="210.9" r="0.5" fill="#5e2a4c" opacity="0.29"/>
<circle cx="430.2" cy="138.9" r="0.6" fill="#5e2a4c" opacity="0.27"/>
<circle cx="415.5" cy="133.6" r="0.7" fill="#5e2a4c" opacity="0.46"/>
<circle cx="446.3" cy="118.2" r="0.4" fill="#5e2a4c" opacity="0.24"/>
<circle cx="486.0" cy="208.3" r="0.6" fill="#5e2a4c" opacity="0.40"/>
<circle cx="467.7" cy="106.7" r="0.5" fill="#5e2a4c" opacity="0.43"/>
<circle cx="470.5" cy="93.7" r="0.4" fill="#5e2a4c" opacity="0.49"/>
<circle cx="485.0" cy="158.1" r="0.5" fill="#5e2a4c" opacity="0.30"/>
<circle cx="419.0" cy="87.8" r="0.6" fill="#5e2a4c" opacity="0.55"/>
<circle cx="465.9" cy="237.8" r="0.6" fill="#5e2a4c" opacity="0.40"/>
<circle cx="453.4" cy="145.8" r="0.6" fill="#5e2a4c" opacity="0.26"/>
<circle cx="449.5" cy="168.2" r="0.4" fill="#5e2a4c" opacity="0.33"/>
<circle cx="469.2" cy="185.4" r="0.7" fill="#5e2a4c" opacity="0.34"/>
<circle cx="421.1" cy="161.4" r="0.4" fill="#5e2a4c" opacity="0.27"/>
<circle cx="431.4" cy="221.2" r="0.6" fill="#5e2a4c" opacity="0.53"/>
<circle cx="449.1" cy="151.7" r="0.6" fill="#5e2a4c" opacity="0.33"/>
<circle cx="460.8" cy="178.8" r="0.5" fill="#5e2a4c" opacity="0.42"/>
<circle cx="427.5" cy="123.6" r="0.6" fill="#5e2a4c" opacity="0.35"/>
<circle cx="413.3" cy="208.0" r="0.4" fill="#5e2a4c" opacity="0.33"/>
<circle cx="425.8" cy="194.6" r="0.6" fill="#5e2a4c" opacity="0.28"/>
<circle cx="473.7" cy="166.9" r="0.4" fill="#5e2a4c" opacity="0.30"/>
<circle cx="422.3" cy="87.0" r="0.5" fill="#5e2a4c" opacity="0.36"/>
<circle cx="471.4" cy="200.0" r="0.4" fill="#5e2a4c" opacity="0.24"/>
<circle cx="483.7" cy="202.8" r="0.5" fill="#5e2a4c" opacity="0.21"/>
<circle cx="450.8" cy="105.3" r="0.6" fill="#5e2a4c" opacity="0.36"/>
<circle cx="432.4" cy="165.2" r="0.6" fill="#5e2a4c" opacity="0.30"/>
<circle cx="418.7" cy="227.7" r="0.6" fill="#5e2a4c" opacity="0.29"/>
<circle cx="434.3" cy="132.8" r="0.6" fill="#5e2a4c" opacity="0.45"/>
<circle cx="413.4" cy="119.3" r="0.6" fill="#5e2a4c" opacity="0.44"/>
<circle cx="428.9" cy="88.1" r="0.4" fill="#5e2a4c" opacity="0.53"/>
<circle cx="447.7" cy="164.3" r="0.6" fill="#5e2a4c" opacity="0.43"/>
<circle cx="451.6" cy="88.3" r="0.7" fill="#5e2a4c" opacity="0.32"/>
<circle cx="424.4" cy="121.4" r="0.7" fill="#5e2a4c" opacity="0.48"/>
<circle cx="472.8" cy="229.3" r="0.5" fill="#5e2a4c" opacity="0.40"/>
<circle cx="414.3" cy="101.7" r="0.6" fill="#5e2a4c" opacity="0.44"/>
<circle cx="442.0" cy="99.7" r="0.7" fill="#5e2a4c" opacity="0.27"/>
<circle cx="458.7" cy="88.0" r="0.4" fill="#5e2a4c" opacity="0.40"/>
<circle cx="488.3" cy="179.6" r="0.7" fill="#5e2a4c" opacity="0.27"/>
<circle cx="414.9" cy="146.0" r="0.6" fill="#5e2a4c" opacity="0.29"/>
<circle cx="476.4" cy="164.4" r="0.6" fill="#5e2a4c" opacity="0.24"/>
<circle cx="463.9" cy="120.3" r="0.6" fill="#5e2a4c" opacity="0.50"/>
<circle cx="414.3" cy="185.6" r="0.5" fill="#5e2a4c" opacity="0.54"/>
<circle cx="448.1" cy="154.1" r="0.4" fill="#5e2a4c" opacity="0.43"/>
<circle cx="476.4" cy="138.0" r="0.4" fill="#5e2a4c" opacity="0.43"/>
<circle cx="419.2" cy="144.4" r="0.6" fill="#5e2a4c" opacity="0.26"/>
<circle cx="476.4" cy="239.7" r="0.5" fill="#5e2a4c" opacity="0.30"/>
<circle cx="484.3" cy="199.3" r="0.5" fill="#5e2a4c" opacity="0.32"/>
<circle cx="477.7" cy="164.2" r="0.4" fill="#5e2a4c" opacity="0.28"/>
<circle cx="433.2" cy="188.6" r="0.5" fill="#5e2a4c" opacity="0.23"/>
<circle cx="435.1" cy="220.0" r="0.7" fill="#5e2a4c" opacity="0.48"/>
<circle cx="435.9" cy="131.9" r="0.4" fill="#5e2a4c" opacity="0.41"/>
<circle cx="454.1" cy="168.7" r="0.5" fill="#5e2a4c" opacity="0.25"/>
<circle cx="443.9" cy="149.3" r="0.5" fill="#5e2a4c" opacity="0.43"/>
<circle cx="423.6" cy="81.8" r="0.6" fill="#5e2a4c" opacity="0.50"/>
<circle cx="426.5" cy="83.6" r="0.6" fill="#5e2a4c" opacity="0.44"/>
<circle cx="459.6" cy="86.3" r="0.7" fill="#5e2a4c" opacity="0.33"/>
<circle cx="432.3" cy="207.2" r="0.5" fill="#5e2a4c" opacity="0.50"/>
<circle cx="421.0" cy="224.0" r="0.5" fill="#5e2a4c" opacity="0.26"/>
<circle cx="426.2" cy="200.9" r="0.4" fill="#5e2a4c" opacity="0.43"/>
<circle cx="427.8" cy="181.5" r="0.7" fill="#5e2a4c" opacity="0.53"/>
<circle cx="431.8" cy="165.5" r="0.6" fill="#5e2a4c" opacity="0.50"/>
<circle cx="449.0" cy="159.8" r="0.4" fill="#5e2a4c" opacity="0.34"/>
<circle cx="481.6" cy="241.1" r="0.5" fill="#5e2a4c" opacity="0.27"/>
<circle cx="430.7" cy="98.2" r="0.6" fill="#5e2a4c" opacity="0.21"/>
<circle cx="477.4" cy="139.8" r="0.7" fill="#5e2a4c" opacity="0.35"/>
<circle cx="412.8" cy="115.7" r="0.4" fill="#5e2a4c" opacity="0.47"/>
<circle cx="435.7" cy="151.9" r="0.5" fill="#5e2a4c" opacity="0.41"/>
<circle cx="430.9" cy="225.5" r="0.4" fill="#5e2a4c" opacity="0.30"/>
<circle cx="485.1" cy="161.2" r="0.4" fill="#5e2a4c" opacity="0.53"/>
<circle cx="415.4" cy="226.5" r="0.5" fill="#5e2a4c" opacity="0.54"/>
<circle cx="481.7" cy="231.9" r="0.6" fill="#5e2a4c" opacity="0.38"/>
<circle cx="485.2" cy="206.6" r="0.5" fill="#5e2a4c" opacity="0.34"/>
<circle cx="479.3" cy="231.2" r="0.6" fill="#5e2a4c" opacity="0.48"/>
<circle cx="477.4" cy="235.9" r="0.4" fill="#5e2a4c" opacity="0.42"/>
<circle cx="444.5" cy="121.1" r="0.5" fill="#5e2a4c" opacity="0.48"/>
<circle cx="426.9" cy="147.7" r="0.5" fill="#5e2a4c" opacity="0.33"/>
<circle cx="419.1" cy="118.8" r="0.5" fill="#5e2a4c" opacity="0.52"/>
<circle cx="444.9" cy="157.1" r="0.6" fill="#5e2a4c" opacity="0.34"/>
<circle cx="427.1" cy="241.0" r="0.4" fill="#5e2a4c" opacity="0.35"/>
<circle cx="447.0" cy="198.3" r="0.5" fill="#5e2a4c" opacity="0.43"/>
<circle cx="463.2" cy="131.1" r="0.4" fill="#5e2a4c" opacity="0.45"/>
<circle cx="418.3" cy="125.8" r="0.6" fill="#5e2a4c" opacity="0.20"/>
<circle cx="468.2" cy="120.2" r="0.4" fill="#5e2a4c" opacity="0.30"/>
<circle cx="485.1" cy="203.1" r="0.4" fill="#5e2a4c" opacity="0.51"/>
<circle cx="422.2" cy="192.7" r="0.6" fill="#5e2a4c" opacity="0.37"/>
<circle cx="450.0" cy="165.4" r="0.5" fill="#5e2a4c" opacity="0.54"/>
<circle cx="466.9" cy="89.9" r="0.4" fill="#5e2a4c" opacity="0.55"/>
<circle cx="442.4" cy="141.2" r="0.5" fill="#5e2a4c" opacity="0.35"/>
<circle cx="472.1" cy="132.7" r="0.7" fill="#5e2a4c" opacity="0.54"/>
<circle cx="424.9" cy="171.0" r="0.6" fill="#5e2a4c" opacity="0.52"/>
<circle cx="423.3" cy="207.6" r="0.5" fill="#5e2a4c" opacity="0.43"/>
<circle cx="474.2" cy="170.0" r="0.4" fill="#5e2a4c" opacity="0.48"/>
<circle cx="451.0" cy="159.2" r="0.6" fill="#5e2a4c" opacity="0.32"/>
<circle cx="441.5" cy="131.8" r="0.6" fill="#5e2a4c" opacity="0.49"/>
<circle cx="416.9" cy="188.3" r="0.4" fill="#5e2a4c" opacity="0.54"/>
<circle cx="477.4" cy="187.2" r="0.6" fill="#5e2a4c" opacity="0.50"/>
<circle cx="422.3" cy="94.7" r="0.5" fill="#5e2a4c" opacity="0.26"/>
<circle cx="443.3" cy="203.2" r="0.7" fill="#5e2a4c" opacity="0.31"/>
<circle cx="442.8" cy="122.5" r="0.6" fill="#5e2a4c" opacity="0.50"/>
<circle cx="484.1" cy="171.1" r="0.6" fill="#5e2a4c" opacity="0.45"/>
<circle cx="452.7" cy="163.0" r="0.7" fill="#5e2a4c" opacity="0.43"/>
<circle cx="442.2" cy="195.9" r="0.5" fill="#5e2a4c" opacity="0.41"/>
<circle cx="485.1" cy="141.1" r="0.5" fill="#5e2a4c" opacity="0.30"/>
<circle cx="448.9" cy="195.6" r="0.4" fill="#5e2a4c" opacity="0.24"/>
<circle cx="467.7" cy="147.7" r="0.7" fill="#5e2a4c" opacity="0.26"/>
<circle cx="480.4" cy="204.5" r="0.7" fill="#5e2a4c" opacity="0.27"/>
<circle cx="444.1" cy="154.3" r="0.4" fill="#5e2a4c" opacity="0.53"/>
<circle cx="462.2" cy="157.0" r="0.4" fill="#5e2a4c" opacity="0.33"/>
<circle cx="439.6" cy="185.2" r="0.5" fill="#5e2a4c" opacity="0.53"/>
<circle cx="433.8" cy="235.6" r="0.4" fill="#5e2a4c" opacity="0.27"/>
<circle cx="437.3" cy="202.1" r="0.5" fill="#5e2a4c" opacity="0.25"/>
<circle cx="427.7" cy="198.9" r="0.6" fill="#5e2a4c" opacity="0.21"/>
<circle cx="474.2" cy="149.7" r="0.6" fill="#5e2a4c" opacity="0.38"/>
<circle cx="474.2" cy="118.7" r="0.7" fill="#5e2a4c" opacity="0.23"/>
<circle cx="454.2" cy="109.0" r="0.5" fill="#5e2a4c" opacity="0.23"/>
<circle cx="420.8" cy="178.9" r="0.5" fill="#5e2a4c" opacity="0.44"/>
<circle cx="431.8" cy="236.9" r="0.6" fill="#5e2a4c" opacity="0.31"/>
<circle cx="476.8" cy="175.9" r="0.7" fill="#5e2a4c" opacity="0.28"/>
<circle cx="475.7" cy="221.2" r="0.5" fill="#5e2a4c" opacity="0.50"/>
<circle cx="430.4" cy="162.6" r="0.6" fill="#5e2a4c" opacity="0.41"/>
<circle cx="472.0" cy="197.2" r="0.4" fill="#5e2a4c" opacity="0.46"/>
<circle cx="442.0" cy="155.9" r="0.6" fill="#5e2a4c" opacity="0.47"/>
<circle cx="422.8" cy="146.2" r="0.6" fill="#5e2a4c" opacity="0.45"/>
<circle cx="426.0" cy="182.7" r="0.4" fill="#5e2a4c" opacity="0.26"/>
<circle cx="454.9" cy="124.9" r="0.4" fill="#5e2a4c" opacity="0.41"/>
<circle cx="427.3" cy="195.8" r="0.5" fill="#5e2a4c" opacity="0.50"/>
<circle cx="423.9" cy="117.1" r="0.5" fill="#5e2a4c" opacity="0.20"/>
<circle cx="486.4" cy="237.3" r="0.4" fill="#5e2a4c" opacity="0.35"/>
<circle cx="475.2" cy="207.2" r="0.5" fill="#5e2a4c" opacity="0.20"/>
<circle cx="465.6" cy="152.7" r="0.5" fill="#5e2a4c" opacity="0.39"/>
<circle cx="478.1" cy="165.4" r="0.4" fill="#5e2a4c" opacity="0.54"/>
<circle cx="426.7" cy="140.8" r="0.4" fill="#5e2a4c" opacity="0.45"/>
<circle cx="452.3" cy="211.4" r="0.4" fill="#5e2a4c" opacity="0.51"/>
<circle cx="459.1" cy="161.3" r="0.6" fill="#5e2a4c" opacity="0.21"/>
<circle cx="482.2" cy="140.6" r="0.6" fill="#5e2a4c" opacity="0.36"/>
<circle cx="443.4" cy="119.3" r="0.5" fill="#5e2a4c" opacity="0.51"/>
<circle cx="454.3" cy="132.6" r="0.7" fill="#5e2a4c" opacity="0.29"/>
<circle cx="451.9" cy="241.5" r="0.7" fill="#5e2a4c" opacity="0.26"/>
<circle cx="476.6" cy="167.6" r="0.5" fill="#5e2a4c" opacity="0.20"/>
<circle cx="461.1" cy="115.2" r="0.4" fill="#5e2a4c" opacity="0.51"/>
<circle cx="418.9" cy="126.9" r="0.7" fill="#5e2a4c" opacity="0.53"/>
<circle cx="485.3" cy="157.5" r="0.5" fill="#5e2a4c" opacity="0.40"/>
<circle cx="458.1" cy="191.5" r="0.6" fill="#5e2a4c" opacity="0.42"/>
<circle cx="418.8" cy="93.6" r="0.4" fill="#5e2a4c" opacity="0.54"/>
<circle cx="488.0" cy="154.0" r="0.6" fill="#5e2a4c" opacity="0.28"/>
<circle cx="476.1" cy="112.9" r="0.7" fill="#5e2a4c" opacity="0.50"/>
<circle cx="447.6" cy="152.4" r="0.4" fill="#5e2a4c" opacity="0.29"/>
<circle cx="472.8" cy="155.7" r="0.4" fill="#5e2a4c" opacity="0.50"/>
<circle cx="485.6" cy="195.5" r="0.5" fill="#5e2a4c" opacity="0.54"/>
<circle cx="423.0" cy="133.6" r="0.7" fill="#5e2a4c" opacity="0.47"/>
<circle cx="453.9" cy="174.4" r="0.5" fill="#5e2a4c" opacity="0.45"/>
<circle cx="422.5" cy="240.7" r="0.4" fill="#5e2a4c" opacity="0.35"/>
<circle cx="413.0" cy="167.9" r="0.7" fill="#5e2a4c" opacity="0.44"/>
<circle cx="443.1" cy="139.7" r="0.4" fill="#5e2a4c" opacity="0.55"/>
<circle cx="439.6" cy="203.5" r="0.6" fill="#5e2a4c" opacity="0.32"/>
<circle cx="432.3" cy="138.2" r="0.7" fill="#5e2a4c" opacity="0.30"/>
<circle cx="414.9" cy="111.0" r="0.5" fill="#5e2a4c" opacity="0.51"/>
<circle cx="459.6" cy="179.5" r="0.5" fill="#5e2a4c" opacity="0.47"/>
<circle cx="416.9" cy="237.7" r="0.4" fill="#5e2a4c" opacity="0.37"/>
<circle cx="452.7" cy="136.9" r="0.5" fill="#5e2a4c" opacity="0.50"/>
<circle cx="419.2" cy="131.3" r="0.5" fill="#5e2a4c" opacity="0.50"/>
<circle cx="446.1" cy="241.2" r="0.7" fill="#5e2a4c" opacity="0.48"/>
<circle cx="456.2" cy="123.8" r="0.4" fill="#5e2a4c" opacity="0.24"/>
<circle cx="414.2" cy="140.2" r="0.6" fill="#5e2a4c" opacity="0.41"/>
<circle cx="414.7" cy="241.3" r="0.7" fill="#5e2a4c" opacity="0.21"/>
<circle cx="462.5" cy="126.9" r="0.7" fill="#5e2a4c" opacity="0.46"/>
<circle cx="449.8" cy="196.9" r="0.7" fill="#5e2a4c" opacity="0.44"/>
<circle cx="432.0" cy="164.8" r="0.6" fill="#5e2a4c" opacity="0.41"/>
<circle cx="422.7" cy="80.2" r="0.5" fill="#5e2a4c" opacity="0.23"/>
<circle cx="443.2" cy="194.4" r="0.7" fill="#5e2a4c" opacity="0.37"/>
<circle cx="442.3" cy="86.4" r="0.4" fill="#5e2a4c" opacity="0.42"/>
<circle cx="430.6" cy="130.7" r="0.7" fill="#5e2a4c" opacity="0.42"/>
<circle cx="474.3" cy="228.5" r="0.5" fill="#5e2a4c" opacity="0.42"/>
<circle cx="481.1" cy="174.5" r="0.7" fill="#5e2a4c" opacity="0.23"/>
<circle cx="468.3" cy="173.6" r="0.4" fill="#5e2a4c" opacity="0.33"/>
<circle cx="461.8" cy="218.5" r="0.4" fill="#5e2a4c" opacity="0.43"/>
<circle cx="450.0" cy="114.9" r="0.6" fill="#5e2a4c" opacity="0.37"/>
<circle cx="459.8" cy="202.5" r="0.4" fill="#5e2a4c" opacity="0.25"/>
<circle cx="470.0" cy="165.6" r="0.7" fill="#5e2a4c" opacity="0.52"/>
<circle cx="416.3" cy="90.4" r="0.5" fill="#5e2a4c" opacity="0.31"/>
<circle cx="459.0" cy="115.4" r="0.4" fill="#5e2a4c" opacity="0.44"/>
<circle cx="440.9" cy="140.6" r="0.6" fill="#5e2a4c" opacity="0.47"/>
<circle cx="476.3" cy="157.7" r="0.4" fill="#5e2a4c" opacity="0.55"/>
<circle cx="471.2" cy="90.9" r="0.6" fill="#5e2a4c" opacity="0.32"/>
<circle cx="435.4" cy="183.0" r="0.5" fill="#5e2a4c" opacity="0.44"/>
<circle cx="481.0" cy="132.1" r="0.4" fill="#5e2a4c" opacity="0.30"/>
<circle cx="460.5" cy="105.6" r="0.4" fill="#5e2a4c" opacity="0.29"/>
<circle cx="436.3" cy="159.6" r="0.6" fill="#5e2a4c" opacity="0.20"/>
<circle cx="432.2" cy="112.0" r="0.5" fill="#5e2a4c" opacity="0.55"/>
<circle cx="478.8" cy="120.4" r="0.7" fill="#5e2a4c" opacity="0.46"/>
<circle cx="481.7" cy="139.3" r="0.4" fill="#5e2a4c" opacity="0.28"/>
<circle cx="428.7" cy="87.4" r="0.7" fill="#5e2a4c" opacity="0.27"/>
<circle cx="416.4" cy="95.0" r="0.5" fill="#5e2a4c" opacity="0.53"/>
<circle cx="430.6" cy="123.2" r="0.6" fill="#5e2a4c" opacity="0.49"/>
<circle cx="435.5" cy="136.1" r="0.7" fill="#5e2a4c" opacity="0.44"/>
<circle cx="434.2" cy="204.3" r="0.4" fill="#5e2a4c" opacity="0.41"/>
<circle cx="469.6" cy="150.9" r="0.5" fill="#5e2a4c" opacity="0.51"/>
<circle cx="509.9" cy="89.5" r="0.55" fill="#5a5060" opacity="0.4"/>
<circle cx="532.0" cy="183.2" r="0.55" fill="#5a5060" opacity="0.4"/>
<circle cx="496.2" cy="174.9" r="0.55" fill="#5a5060" opacity="0.4"/>
<circle cx="523.3" cy="84.8" r="0.55" fill="#5a5060" opacity="0.4"/>
<circle cx="518.7" cy="182.9" r="0.55" fill="#5a5060" opacity="0.4"/>
<circle cx="496.8" cy="154.6" r="0.55" fill="#5a5060" opacity="0.4"/>
<circle cx="515.4" cy="185.0" r="0.55" fill="#5a5060" opacity="0.4"/>
<circle cx="545.5" cy="212.7" r="0.55" fill="#5a5060" opacity="0.4"/>
<circle cx="509.1" cy="133.0" r="0.55" fill="#5a5060" opacity="0.4"/>
<circle cx="547.9" cy="124.4" r="0.55" fill="#5a5060" opacity="0.4"/>
<circle cx="541.6" cy="187.6" r="0.55" fill="#5a5060" opacity="0.4"/>
<circle cx="537.0" cy="127.5" r="0.55" fill="#5a5060" opacity="0.4"/>
<circle cx="510.7" cy="224.5" r="0.55" fill="#5a5060" opacity="0.4"/>
<circle cx="541.7" cy="223.6" r="0.55" fill="#5a5060" opacity="0.4"/>
<circle cx="499.4" cy="95.7" r="0.55" fill="#5a5060" opacity="0.4"/>
<circle cx="542.5" cy="184.3" r="0.55" fill="#5a5060" opacity="0.4"/>
<circle cx="522.2" cy="208.1" r="0.55" fill="#5a5060" opacity="0.4"/>
<circle cx="549.1" cy="154.5" r="0.55" fill="#5a5060" opacity="0.4"/>
<circle cx="541.0" cy="144.7" r="0.55" fill="#5a5060" opacity="0.4"/>
<circle cx="513.3" cy="154.7" r="0.55" fill="#5a5060" opacity="0.4"/>
<circle cx="507.0" cy="176.4" r="0.55" fill="#5a5060" opacity="0.4"/>
<circle cx="515.1" cy="172.5" r="0.55" fill="#5a5060" opacity="0.4"/>
<circle cx="536.9" cy="200.7" r="0.55" fill="#5a5060" opacity="0.4"/>
<circle cx="536.6" cy="179.5" r="0.55" fill="#5a5060" opacity="0.4"/>
<circle cx="525.5" cy="74.5" r="0.55" fill="#5a5060" opacity="0.4"/>
<circle cx="524.8" cy="190.2" r="0.55" fill="#5a5060" opacity="0.4"/>
<circle cx="497.5" cy="143.3" r="0.55" fill="#5a5060" opacity="0.4"/>
<circle cx="538.9" cy="180.3" r="0.55" fill="#5a5060" opacity="0.4"/>
<circle cx="525.6" cy="114.7" r="0.55" fill="#5a5060" opacity="0.4"/>
<circle cx="522.0" cy="108.6" r="0.55" fill="#5a5060" opacity="0.4"/>
<circle cx="524.9" cy="218.3" r="0.55" fill="#5a5060" opacity="0.4"/>
<circle cx="532.2" cy="185.1" r="0.55" fill="#5a5060" opacity="0.4"/>
<circle cx="504.8" cy="127.9" r="0.55" fill="#5a5060" opacity="0.4"/>
<circle cx="519.8" cy="85.6" r="0.55" fill="#5a5060" opacity="0.4"/>
<circle cx="522.0" cy="111.5" r="0.55" fill="#5a5060" opacity="0.4"/>
<circle cx="526.4" cy="112.2" r="0.55" fill="#5a5060" opacity="0.4"/>
<circle cx="546.4" cy="136.6" r="0.55" fill="#5a5060" opacity="0.4"/>
<circle cx="496.9" cy="166.3" r="0.55" fill="#5a5060" opacity="0.4"/>
<circle cx="507.3" cy="122.3" r="0.55" fill="#5a5060" opacity="0.4"/>
<circle cx="539.3" cy="212.5" r="0.55" fill="#5a5060" opacity="0.4"/>
<circle cx="505.2" cy="130.9" r="0.55" fill="#5a5060" opacity="0.4"/>
<circle cx="520.4" cy="171.5" r="0.55" fill="#5a5060" opacity="0.4"/>
<circle cx="522.7" cy="126.3" r="0.55" fill="#5a5060" opacity="0.4"/>
<circle cx="542.2" cy="104.2" r="0.55" fill="#5a5060" opacity="0.4"/>
<circle cx="547.7" cy="100.1" r="0.55" fill="#5a5060" opacity="0.4"/>
<circle cx="524.1" cy="180.4" r="0.55" fill="#5a5060" opacity="0.4"/>
<circle cx="512.4" cy="192.4" r="0.55" fill="#5a5060" opacity="0.4"/>
<circle cx="542.5" cy="173.4" r="0.55" fill="#5a5060" opacity="0.4"/>
<circle cx="549.9" cy="171.6" r="0.55" fill="#5a5060" opacity="0.4"/>
<circle cx="534.3" cy="118.8" r="0.55" fill="#5a5060" opacity="0.4"/>
<circle cx="496.1" cy="107.1" r="0.55" fill="#5a5060" opacity="0.4"/>
<circle cx="496.8" cy="210.0" r="0.55" fill="#5a5060" opacity="0.4"/>
<circle cx="503.6" cy="86.3" r="0.55" fill="#5a5060" opacity="0.4"/>
<circle cx="544.4" cy="82.2" r="0.55" fill="#5a5060" opacity="0.4"/>
<circle cx="504.1" cy="216.4" r="0.55" fill="#5a5060" opacity="0.4"/>
</g>
</g>
<rect x="128.5" y="59.5" width="151.3" height="182.8" fill="none" stroke="#0a0a14" stroke-width="1.3"/>
<line x1="204.30" y1="59.50" x2="204.30" y2="242.30" stroke="#0a0a14" stroke-width="1.5"/>
<rect x="406.3" y="59.5" width="152.3" height="183.1" fill="none" stroke="#0a0a14" stroke-width="1.3"/>
<line x1="482.50" y1="59.50" x2="482.50" y2="242.60" stroke="#0a0a14" stroke-width="1.5"/>
<text x="139.6" y="80.0" font-size="19.5" font-weight="normal" text-anchor="middle" fill="#fff" >*</text>
<text x="419.4" y="80.0" font-size="19.5" font-weight="normal" text-anchor="middle" fill="#fff" >*</text>
<text x="1.3" y="26.3" font-size="35" font-weight="normal" text-anchor="start" fill="#111" >A</text>
<text x="1.45" y="356" font-size="35" font-weight="normal" text-anchor="start" fill="#111" >B</text>
<text x="387" y="355.9" font-size="35" font-weight="normal" text-anchor="start" fill="#111" >C</text>
<text x="214" y="20.9" font-size="16.3" font-weight="normal" text-anchor="middle" fill="#111" >TUNEL</text>
<text x="487" y="20.9" font-size="16.3" font-weight="normal" text-anchor="middle" fill="#111" >pHH3</text>
<text x="204.3" y="286.5" font-size="16.3" font-weight="normal" text-anchor="middle" fill="#111" >Npr3MO</text>
<text x="482.2" y="285.8" font-size="16.3" font-weight="normal" text-anchor="middle" fill="#111" >Npr3MO</text>
<text x="179.5" y="349.9" font-size="16.4" font-weight="normal" text-anchor="middle" fill="#111" >TUNEL</text>
<text x="551.8" y="349.7" font-size="16.4" font-weight="normal" text-anchor="middle" fill="#111" >pHH3</text>
<line x1="54.30" y1="375.60" x2="54.30" y2="525.00" stroke="#0d0d0d" stroke-width="1.4"/>
<line x1="48.80" y1="524.30" x2="152.80" y2="524.30" stroke="#0d0d0d" stroke-width="1.4"/>
<line x1="48.80" y1="524.30" x2="54.30" y2="524.30" stroke="#0d0d0d" stroke-width="1.4"/>
<text x="45.3" y="528.10" font-size="10.6" font-weight="bold" text-anchor="end" fill="#111" >0</text>
<line x1="48.80" y1="487.30" x2="54.30" y2="487.30" stroke="#0d0d0d" stroke-width="1.4"/>
<text x="45.3" y="491.10" font-size="10.6" font-weight="bold" text-anchor="end" fill="#111" >50</text>
<line x1="48.80" y1="450.30" x2="54.30" y2="450.30" stroke="#0d0d0d" stroke-width="1.4"/>
<text x="45.3" y="454.10" font-size="10.6" font-weight="bold" text-anchor="end" fill="#111" >100</text>
<line x1="48.80" y1="413.30" x2="54.30" y2="413.30" stroke="#0d0d0d" stroke-width="1.4"/>
<text x="45.3" y="417.10" font-size="10.6" font-weight="bold" text-anchor="end" fill="#111" >150</text>
<line x1="48.80" y1="376.30" x2="54.30" y2="376.30" stroke="#0d0d0d" stroke-width="1.4"/>
<text x="45.3" y="380.10" font-size="10.6" font-weight="bold" text-anchor="end" fill="#111" >200</text>
<line x1="82.60" y1="524.30" x2="82.60" y2="530.30" stroke="#0d0d0d" stroke-width="1.4"/>
<line x1="125.00" y1="524.30" x2="125.00" y2="530.30" stroke="#0d0d0d" stroke-width="1.4"/>
<text x="0" y="0" font-size="11.9" font-weight="bold" text-anchor="middle" fill="#111" transform="translate(16.0,451.3) rotate(-90)">Number of positive cells</text>
<text x="82.6" y="546.1" font-size="11.3" font-weight="bold" text-anchor="middle" fill="#111" >UI</text>
<text x="125" y="546.1" font-size="11.3" font-weight="bold" text-anchor="middle" fill="#111" >Npr3MO</text>
<line x1="82.70" y1="383.00" x2="125.00" y2="383.00" stroke="#0d0d0d" stroke-width="1.4"/>
<line x1="82.70" y1="382.30" x2="82.70" y2="459.50" stroke="#0d0d0d" stroke-width="1.4"/>
<line x1="125.00" y1="382.30" x2="125.00" y2="392.20" stroke="#0d0d0d" stroke-width="1.4"/>
<text x="103.9" y="383.7" font-size="22.5" font-weight="bold" text-anchor="middle" fill="#111" >****</text>
<line x1="68.80" y1="518.50" x2="96.60" y2="518.50" stroke="#0d0d0d" stroke-width="1.4"/>
<circle cx="82.60" cy="468.10" r="2.4" fill="#747474"/>
<circle cx="82.60" cy="483.70" r="2.4" fill="#747474"/>
<circle cx="82.40" cy="499.80" r="2.4" fill="#747474"/>
<circle cx="82.40" cy="504.90" r="2.4" fill="#747474"/>
<circle cx="79.30" cy="508.00" r="2.4" fill="#747474"/>
<circle cx="86.00" cy="508.00" r="2.4" fill="#747474"/>
<circle cx="82.40" cy="509.60" r="2.4" fill="#747474"/>
<circle cx="80.20" cy="513.40" r="2.4" fill="#747474"/>
<circle cx="85.00" cy="513.10" r="2.4" fill="#747474"/>
<circle cx="82.40" cy="515.00" r="2.4" fill="#747474"/>
<circle cx="80.50" cy="517.60" r="2.4" fill="#747474"/>
<circle cx="84.40" cy="517.00" r="2.4" fill="#747474"/>
<circle cx="82.40" cy="518.80" r="2.4" fill="#747474"/>
<circle cx="71.60" cy="524.40" r="2.4" fill="#747474"/>
<circle cx="74.05" cy="524.40" r="2.4" fill="#747474"/>
<circle cx="76.50" cy="524.40" r="2.4" fill="#747474"/>
<circle cx="78.95" cy="524.40" r="2.4" fill="#747474"/>
<circle cx="81.40" cy="524.40" r="2.4" fill="#747474"/>
<circle cx="83.85" cy="524.40" r="2.4" fill="#747474"/>
<circle cx="86.30" cy="524.40" r="2.4" fill="#747474"/>
<circle cx="88.75" cy="524.40" r="2.4" fill="#747474"/>
<circle cx="91.20" cy="524.40" r="2.4" fill="#747474"/>
<circle cx="93.65" cy="524.40" r="2.4" fill="#747474"/>
<line x1="110.90" y1="478.30" x2="139.30" y2="478.30" stroke="#0d0d0d" stroke-width="1.4"/>
<circle cx="121.00" cy="400.60" r="2.35" fill="#ff2008"/>
<circle cx="129.00" cy="400.60" r="2.35" fill="#ff2008"/>
<circle cx="125.00" cy="418.50" r="2.35" fill="#ff2008"/>
<circle cx="125.00" cy="440.60" r="2.35" fill="#ff2008"/>
<circle cx="113.00" cy="448.80" r="2.35" fill="#ff2008"/>
<circle cx="121.00" cy="448.00" r="2.35" fill="#ff2008"/>
<circle cx="129.00" cy="451.70" r="2.35" fill="#ff2008"/>
<circle cx="137.00" cy="450.10" r="2.35" fill="#ff2008"/>
<circle cx="137.00" cy="455.50" r="2.35" fill="#ff2008"/>
<circle cx="113.00" cy="458.20" r="2.35" fill="#ff2008"/>
<circle cx="121.00" cy="457.60" r="2.35" fill="#ff2008"/>
<circle cx="113.00" cy="467.30" r="2.35" fill="#ff2008"/>
<circle cx="121.00" cy="469.30" r="2.35" fill="#ff2008"/>
<circle cx="129.00" cy="471.00" r="2.35" fill="#ff2008"/>
<circle cx="121.00" cy="478.30" r="2.35" fill="#ff2008"/>
<circle cx="129.00" cy="479.00" r="2.35" fill="#ff2008"/>
<circle cx="121.00" cy="492.50" r="2.35" fill="#ff2008"/>
<circle cx="129.00" cy="491.70" r="2.35" fill="#ff2008"/>
<circle cx="113.00" cy="498.30" r="2.35" fill="#ff2008"/>
<circle cx="121.00" cy="497.60" r="2.35" fill="#ff2008"/>
<circle cx="129.00" cy="498.90" r="2.35" fill="#ff2008"/>
<circle cx="137.00" cy="496.90" r="2.35" fill="#ff2008"/>
<circle cx="113.00" cy="503.40" r="2.35" fill="#ff2008"/>
<circle cx="121.00" cy="504.90" r="2.35" fill="#ff2008"/>
<circle cx="129.00" cy="507.10" r="2.35" fill="#ff2008"/>
<circle cx="113.00" cy="508.80" r="2.35" fill="#ff2008"/>
<circle cx="137.00" cy="508.80" r="2.35" fill="#ff2008"/>
<circle cx="129.00" cy="512.50" r="2.35" fill="#ff2008"/>
<circle cx="121.00" cy="516.10" r="2.35" fill="#ff2008"/>
<line x1="227.20" y1="376.30" x2="227.20" y2="525.50" stroke="#0d0d0d" stroke-width="1.4"/>
<line x1="221.70" y1="524.80" x2="368.40" y2="524.80" stroke="#0d0d0d" stroke-width="1.4"/>
<line x1="221.70" y1="524.80" x2="227.20" y2="524.80" stroke="#0d0d0d" stroke-width="1.4"/>
<text x="217.8" y="528.60" font-size="10.6" font-weight="bold" text-anchor="end" fill="#111" >0.0</text>
<line x1="221.70" y1="495.24" x2="227.20" y2="495.24" stroke="#0d0d0d" stroke-width="1.4"/>
<text x="217.8" y="499.04" font-size="10.6" font-weight="bold" text-anchor="end" fill="#111" >0.2</text>
<line x1="221.70" y1="465.68" x2="227.20" y2="465.68" stroke="#0d0d0d" stroke-width="1.4"/>
<text x="217.8" y="469.48" font-size="10.6" font-weight="bold" text-anchor="end" fill="#111" >0.4</text>
<line x1="221.70" y1="436.12" x2="227.20" y2="436.12" stroke="#0d0d0d" stroke-width="1.4"/>
<text x="217.8" y="439.92" font-size="10.6" font-weight="bold" text-anchor="end" fill="#111" >0.6</text>
<line x1="221.70" y1="406.56" x2="227.20" y2="406.56" stroke="#0d0d0d" stroke-width="1.4"/>
<text x="217.8" y="410.36" font-size="10.6" font-weight="bold" text-anchor="end" fill="#111" >0.8</text>
<line x1="221.70" y1="377.00" x2="227.20" y2="377.00" stroke="#0d0d0d" stroke-width="1.4"/>
<text x="217.8" y="380.80" font-size="10.6" font-weight="bold" text-anchor="end" fill="#111" >1.0</text>
<line x1="267.60" y1="524.80" x2="267.60" y2="530.80" stroke="#0d0d0d" stroke-width="1.4"/>
<line x1="328.20" y1="524.80" x2="328.20" y2="530.80" stroke="#0d0d0d" stroke-width="1.4"/>
<text x="0" y="0" font-size="11.9" font-weight="bold" text-anchor="middle" fill="#111" transform="translate(194.0,451.9) rotate(-90)">Number of positive cells</text>
<text x="267.6" y="544" font-size="11.3" font-weight="bold" text-anchor="middle" fill="#111" >UI</text>
<text x="328.2" y="544" font-size="11.3" font-weight="bold" text-anchor="middle" fill="#111" >CoMO</text>
<circle cx="250.10" cy="524.80" r="2.75" fill="#747474"/>
<circle cx="255.10" cy="524.80" r="2.75" fill="#747474"/>
<circle cx="260.10" cy="524.80" r="2.75" fill="#747474"/>
<circle cx="265.10" cy="524.80" r="2.75" fill="#747474"/>
<circle cx="270.10" cy="524.80" r="2.75" fill="#747474"/>
<circle cx="275.10" cy="524.80" r="2.75" fill="#747474"/>
<circle cx="280.10" cy="524.80" r="2.75" fill="#747474"/>
<circle cx="285.10" cy="524.80" r="2.75" fill="#747474"/>
<circle cx="310.60" cy="524.80" r="2.75" fill="#0b30ff"/>
<circle cx="315.60" cy="524.80" r="2.75" fill="#0b30ff"/>
<circle cx="320.60" cy="524.80" r="2.75" fill="#0b30ff"/>
<circle cx="325.60" cy="524.80" r="2.75" fill="#0b30ff"/>
<circle cx="330.60" cy="524.80" r="2.75" fill="#0b30ff"/>
<circle cx="335.60" cy="524.80" r="2.75" fill="#0b30ff"/>
<circle cx="340.60" cy="524.80" r="2.75" fill="#0b30ff"/>
<circle cx="345.60" cy="524.80" r="2.75" fill="#0b30ff"/>
<line x1="450.40" y1="375.90" x2="450.40" y2="525.40" stroke="#0d0d0d" stroke-width="1.4"/>
<line x1="444.90" y1="524.70" x2="548.80" y2="524.70" stroke="#0d0d0d" stroke-width="1.4"/>
<line x1="444.90" y1="524.70" x2="450.40" y2="524.70" stroke="#0d0d0d" stroke-width="1.4"/>
<text x="441.5" y="528.50" font-size="10.6" font-weight="bold" text-anchor="end" fill="#111" >0</text>
<line x1="444.90" y1="487.68" x2="450.40" y2="487.68" stroke="#0d0d0d" stroke-width="1.4"/>
<text x="441.5" y="491.48" font-size="10.6" font-weight="bold" text-anchor="end" fill="#111" >100</text>
<line x1="444.90" y1="450.65" x2="450.40" y2="450.65" stroke="#0d0d0d" stroke-width="1.4"/>
<text x="441.5" y="454.45" font-size="10.6" font-weight="bold" text-anchor="end" fill="#111" >200</text>
<line x1="444.90" y1="413.62" x2="450.40" y2="413.62" stroke="#0d0d0d" stroke-width="1.4"/>
<text x="441.5" y="417.43" font-size="10.6" font-weight="bold" text-anchor="end" fill="#111" >300</text>
<line x1="444.90" y1="376.60" x2="450.40" y2="376.60" stroke="#0d0d0d" stroke-width="1.4"/>
<text x="441.5" y="380.40" font-size="10.6" font-weight="bold" text-anchor="end" fill="#111" >400</text>
<line x1="478.20" y1="524.70" x2="478.20" y2="530.70" stroke="#0d0d0d" stroke-width="1.4"/>
<line x1="521.00" y1="524.70" x2="521.00" y2="530.70" stroke="#0d0d0d" stroke-width="1.4"/>
<text x="0" y="0" font-size="11.9" font-weight="bold" text-anchor="middle" fill="#111" transform="translate(411.5,451.7) rotate(-90)">Number of positive cells</text>
<text x="478.6" y="544" font-size="11.3" font-weight="bold" text-anchor="middle" fill="#111" >UI</text>
<text x="520.9" y="544" font-size="11.3" font-weight="bold" text-anchor="middle" fill="#111" >Npr3MO</text>
<line x1="478.60" y1="392.60" x2="520.90" y2="392.60" stroke="#0d0d0d" stroke-width="1.4"/>
<line x1="478.60" y1="391.90" x2="478.60" y2="401.50" stroke="#0d0d0d" stroke-width="1.4"/>
<line x1="520.90" y1="391.90" x2="520.90" y2="462.50" stroke="#0d0d0d" stroke-width="1.4"/>
<text x="500.2" y="392.7" font-size="22.5" font-weight="bold" text-anchor="middle" fill="#111" >**</text>
<line x1="464.60" y1="500.10" x2="492.30" y2="500.10" stroke="#0d0d0d" stroke-width="1.4"/>
<circle cx="478.50" cy="410.40" r="2.25" fill="#747474"/>
<circle cx="478.50" cy="461.50" r="2.25" fill="#747474"/>
<circle cx="482.50" cy="463.90" r="2.25" fill="#747474"/>
<circle cx="478.50" cy="467.30" r="2.25" fill="#747474"/>
<circle cx="474.50" cy="474.30" r="2.25" fill="#747474"/>
<circle cx="478.50" cy="477.70" r="2.25" fill="#747474"/>
<circle cx="482.50" cy="480.50" r="2.25" fill="#747474"/>
<circle cx="478.50" cy="483.60" r="2.25" fill="#747474"/>
<circle cx="474.50" cy="485.10" r="2.25" fill="#747474"/>
<circle cx="482.50" cy="487.60" r="2.25" fill="#747474"/>
<circle cx="478.50" cy="489.80" r="2.25" fill="#747474"/>
<circle cx="474.50" cy="489.80" r="2.25" fill="#747474"/>
<circle cx="486.50" cy="496.40" r="2.25" fill="#747474"/>
<circle cx="466.50" cy="497.50" r="2.25" fill="#747474"/>
<circle cx="470.50" cy="498.20" r="2.25" fill="#747474"/>
<circle cx="474.50" cy="499.30" r="2.25" fill="#747474"/>
<circle cx="478.50" cy="501.10" r="2.25" fill="#747474"/>
<circle cx="482.50" cy="500.00" r="2.25" fill="#747474"/>
<circle cx="490.50" cy="498.50" r="2.25" fill="#747474"/>
<circle cx="486.50" cy="502.50" r="2.25" fill="#747474"/>
<circle cx="466.50" cy="502.90" r="2.25" fill="#747474"/>
<circle cx="470.50" cy="505.10" r="2.25" fill="#747474"/>
<circle cx="474.50" cy="505.10" r="2.25" fill="#747474"/>
<circle cx="482.50" cy="505.80" r="2.25" fill="#747474"/>
<circle cx="478.50" cy="507.60" r="2.25" fill="#747474"/>
<circle cx="466.50" cy="508.70" r="2.25" fill="#747474"/>
<circle cx="470.50" cy="509.80" r="2.25" fill="#747474"/>
<circle cx="474.50" cy="510.90" r="2.25" fill="#747474"/>
<circle cx="478.50" cy="512.70" r="2.25" fill="#747474"/>
<circle cx="482.50" cy="510.90" r="2.25" fill="#747474"/>
<circle cx="486.50" cy="508.70" r="2.25" fill="#747474"/>
<circle cx="490.50" cy="510.50" r="2.25" fill="#747474"/>
<circle cx="470.50" cy="514.90" r="2.25" fill="#747474"/>
<circle cx="486.50" cy="515.30" r="2.25" fill="#747474"/>
<line x1="507.20" y1="508.60" x2="534.80" y2="508.60" stroke="#0d0d0d" stroke-width="1.4"/>
<circle cx="519.80" cy="470.80" r="2.25" fill="#ff2008"/>
<circle cx="521.80" cy="474.90" r="2.25" fill="#ff2008"/>
<circle cx="518.50" cy="480.50" r="2.25" fill="#ff2008"/>
<circle cx="522.90" cy="480.50" r="2.25" fill="#ff2008"/>
<circle cx="521.80" cy="486.80" r="2.25" fill="#ff2008"/>
<circle cx="517.50" cy="490.50" r="2.25" fill="#ff2008"/>
<circle cx="524.20" cy="491.50" r="2.25" fill="#ff2008"/>
<circle cx="519.80" cy="494.30" r="2.25" fill="#ff2008"/>
<circle cx="524.40" cy="496.60" r="2.25" fill="#ff2008"/>
<circle cx="517.50" cy="500.50" r="2.25" fill="#ff2008"/>
<circle cx="521.10" cy="501.60" r="2.25" fill="#ff2008"/>
<circle cx="524.00" cy="503.50" r="2.25" fill="#ff2008"/>
<circle cx="521.80" cy="506.00" r="2.25" fill="#ff2008"/>
<circle cx="526.20" cy="506.40" r="2.25" fill="#ff2008"/>
<circle cx="520.40" cy="509.30" r="2.25" fill="#ff2008"/>
<circle cx="524.00" cy="510.40" r="2.25" fill="#ff2008"/>
<circle cx="509.10" cy="510.70" r="2.25" fill="#ff2008"/>
<circle cx="510.90" cy="513.30" r="2.25" fill="#ff2008"/>
<circle cx="514.50" cy="514.00" r="2.25" fill="#ff2008"/>
<circle cx="518.20" cy="514.70" r="2.25" fill="#ff2008"/>
<circle cx="521.80" cy="515.50" r="2.25" fill="#ff2008"/>
<circle cx="525.50" cy="516.20" r="2.25" fill="#ff2008"/>
<circle cx="529.80" cy="516.20" r="2.25" fill="#ff2008"/>
<circle cx="532.70" cy="512.50" r="2.25" fill="#ff2008"/>
<circle cx="508.70" cy="516.90" r="2.25" fill="#ff2008"/>
<circle cx="513.10" cy="516.90" r="2.25" fill="#ff2008"/>
<circle cx="517.50" cy="518.70" r="2.25" fill="#ff2008"/>
<circle cx="521.80" cy="517.60" r="2.25" fill="#ff2008"/>
<circle cx="526.20" cy="518.40" r="2.25" fill="#ff2008"/>
<circle cx="532.00" cy="517.30" r="2.25" fill="#ff2008"/>
<line x1="618.30" y1="376.30" x2="618.30" y2="525.50" stroke="#0d0d0d" stroke-width="1.4"/>
<line x1="612.80" y1="524.80" x2="716.00" y2="524.80" stroke="#0d0d0d" stroke-width="1.4"/>
<line x1="612.80" y1="524.80" x2="618.30" y2="524.80" stroke="#0d0d0d" stroke-width="1.4"/>
<text x="608.5" y="528.60" font-size="10.6" font-weight="bold" text-anchor="end" fill="#111" >0</text>
<line x1="612.80" y1="495.24" x2="618.30" y2="495.24" stroke="#0d0d0d" stroke-width="1.4"/>
<text x="608.5" y="499.04" font-size="10.6" font-weight="bold" text-anchor="end" fill="#111" >50</text>
<line x1="612.80" y1="465.68" x2="618.30" y2="465.68" stroke="#0d0d0d" stroke-width="1.4"/>
<text x="608.5" y="469.48" font-size="10.6" font-weight="bold" text-anchor="end" fill="#111" >100</text>
<line x1="612.80" y1="436.12" x2="618.30" y2="436.12" stroke="#0d0d0d" stroke-width="1.4"/>
<text x="608.5" y="439.92" font-size="10.6" font-weight="bold" text-anchor="end" fill="#111" >150</text>
<line x1="612.80" y1="406.56" x2="618.30" y2="406.56" stroke="#0d0d0d" stroke-width="1.4"/>
<text x="608.5" y="410.36" font-size="10.6" font-weight="bold" text-anchor="end" fill="#111" >200</text>
<line x1="612.80" y1="377.00" x2="618.30" y2="377.00" stroke="#0d0d0d" stroke-width="1.4"/>
<text x="608.5" y="380.80" font-size="10.6" font-weight="bold" text-anchor="end" fill="#111" >250</text>
<line x1="646.00" y1="524.80" x2="646.00" y2="530.80" stroke="#0d0d0d" stroke-width="1.4"/>
<line x1="688.20" y1="524.80" x2="688.20" y2="530.80" stroke="#0d0d0d" stroke-width="1.4"/>
<text x="0" y="0" font-size="11.9" font-weight="bold" text-anchor="middle" fill="#111" transform="translate(579.1999999999999,451.9) rotate(-90)">Number of positive cells</text>
<text x="645.9" y="544" font-size="11.3" font-weight="bold" text-anchor="middle" fill="#111" >UI</text>
<text x="688.2" y="544" font-size="11.3" font-weight="bold" text-anchor="middle" fill="#111" >CoMO</text>
<line x1="645.80" y1="376.50" x2="688.40" y2="376.50" stroke="#0d0d0d" stroke-width="1.4"/>
<line x1="645.80" y1="375.80" x2="645.80" y2="384.70" stroke="#0d0d0d" stroke-width="1.4"/>
<line x1="688.40" y1="375.80" x2="688.40" y2="389.20" stroke="#0d0d0d" stroke-width="1.4"/>
<text x="667.1" y="368.2" font-size="11.2" font-weight="normal" text-anchor="middle" fill="#111" >ns</text>
<line x1="631.80" y1="472.20" x2="659.60" y2="472.20" stroke="#0d0d0d" stroke-width="1.4"/>
<circle cx="642.10" cy="393.40" r="2.25" fill="#747474"/>
<circle cx="650.10" cy="394.20" r="2.25" fill="#747474"/>
<circle cx="645.90" cy="397.10" r="2.25" fill="#747474"/>
<circle cx="645.90" cy="407.70" r="2.25" fill="#747474"/>
<circle cx="645.90" cy="414.80" r="2.25" fill="#747474"/>
<circle cx="642.10" cy="419.30" r="2.25" fill="#747474"/>
<circle cx="645.90" cy="422.90" r="2.25" fill="#747474"/>
<circle cx="645.90" cy="429.80" r="2.25" fill="#747474"/>
<circle cx="641.80" cy="447.30" r="2.25" fill="#747474"/>
<circle cx="646.00" cy="451.50" r="2.25" fill="#747474"/>
<circle cx="644.00" cy="465.10" r="2.25" fill="#747474"/>
<circle cx="647.80" cy="463.60" r="2.25" fill="#747474"/>
<circle cx="641.80" cy="471.50" r="2.25" fill="#747474"/>
<circle cx="646.00" cy="472.70" r="2.25" fill="#747474"/>
<circle cx="650.00" cy="470.40" r="2.25" fill="#747474"/>
<circle cx="641.80" cy="483.60" r="2.25" fill="#747474"/>
<circle cx="646.00" cy="482.70" r="2.25" fill="#747474"/>
<circle cx="650.00" cy="480.90" r="2.25" fill="#747474"/>
<circle cx="641.80" cy="489.10" r="2.25" fill="#747474"/>
<circle cx="650.00" cy="486.90" r="2.25" fill="#747474"/>
<circle cx="638.20" cy="493.60" r="2.25" fill="#747474"/>
<circle cx="646.00" cy="493.60" r="2.25" fill="#747474"/>
<circle cx="650.00" cy="491.80" r="2.25" fill="#747474"/>
<circle cx="634.20" cy="497.30" r="2.25" fill="#747474"/>
<circle cx="641.80" cy="495.50" r="2.25" fill="#747474"/>
<circle cx="650.00" cy="498.20" r="2.25" fill="#747474"/>
<circle cx="654.00" cy="495.80" r="2.25" fill="#747474"/>
<circle cx="657.80" cy="497.60" r="2.25" fill="#747474"/>
<line x1="673.90" y1="479.80" x2="702.60" y2="479.80" stroke="#0d0d0d" stroke-width="1.4"/>
<circle cx="688.40" cy="397.30" r="2.25" fill="#0b30ff"/>
<circle cx="684.30" cy="401.70" r="2.25" fill="#0b30ff"/>
<circle cx="692.30" cy="400.50" r="2.25" fill="#0b30ff"/>
<circle cx="688.40" cy="433.50" r="2.25" fill="#0b30ff"/>
<circle cx="684.30" cy="440.80" r="2.25" fill="#0b30ff"/>
<circle cx="688.40" cy="440.50" r="2.25" fill="#0b30ff"/>
<circle cx="692.30" cy="442.80" r="2.25" fill="#0b30ff"/>
<circle cx="684.30" cy="445.50" r="2.25" fill="#0b30ff"/>
<circle cx="688.30" cy="449.20" r="2.25" fill="#0b30ff"/>
<circle cx="692.30" cy="448.30" r="2.25" fill="#0b30ff"/>
<circle cx="696.10" cy="447.80" r="2.25" fill="#0b30ff"/>
<circle cx="684.20" cy="452.80" r="2.25" fill="#0b30ff"/>
<circle cx="688.20" cy="479.00" r="2.25" fill="#0b30ff"/>
<circle cx="692.30" cy="478.20" r="2.25" fill="#0b30ff"/>
<circle cx="684.20" cy="481.40" r="2.25" fill="#0b30ff"/>
<circle cx="688.20" cy="483.40" r="2.25" fill="#0b30ff"/>
<circle cx="692.30" cy="483.40" r="2.25" fill="#0b30ff"/>
<circle cx="680.00" cy="494.50" r="2.25" fill="#0b30ff"/>
<circle cx="684.20" cy="496.50" r="2.25" fill="#0b30ff"/>
<circle cx="688.20" cy="493.60" r="2.25" fill="#0b30ff"/>
<circle cx="692.30" cy="494.00" r="2.25" fill="#0b30ff"/>
<circle cx="700.10" cy="495.40" r="2.25" fill="#0b30ff"/>
<circle cx="675.90" cy="497.00" r="2.25" fill="#0b30ff"/>
<circle cx="688.20" cy="498.10" r="2.25" fill="#0b30ff"/>
<circle cx="696.00" cy="498.10" r="2.25" fill="#0b30ff"/>
<circle cx="684.20" cy="501.10" r="2.25" fill="#0b30ff"/>
<circle cx="692.30" cy="502.60" r="2.25" fill="#0b30ff"/>
<circle cx="688.20" cy="511.30" r="2.25" fill="#0b30ff"/>
</svg>
</body></html>
